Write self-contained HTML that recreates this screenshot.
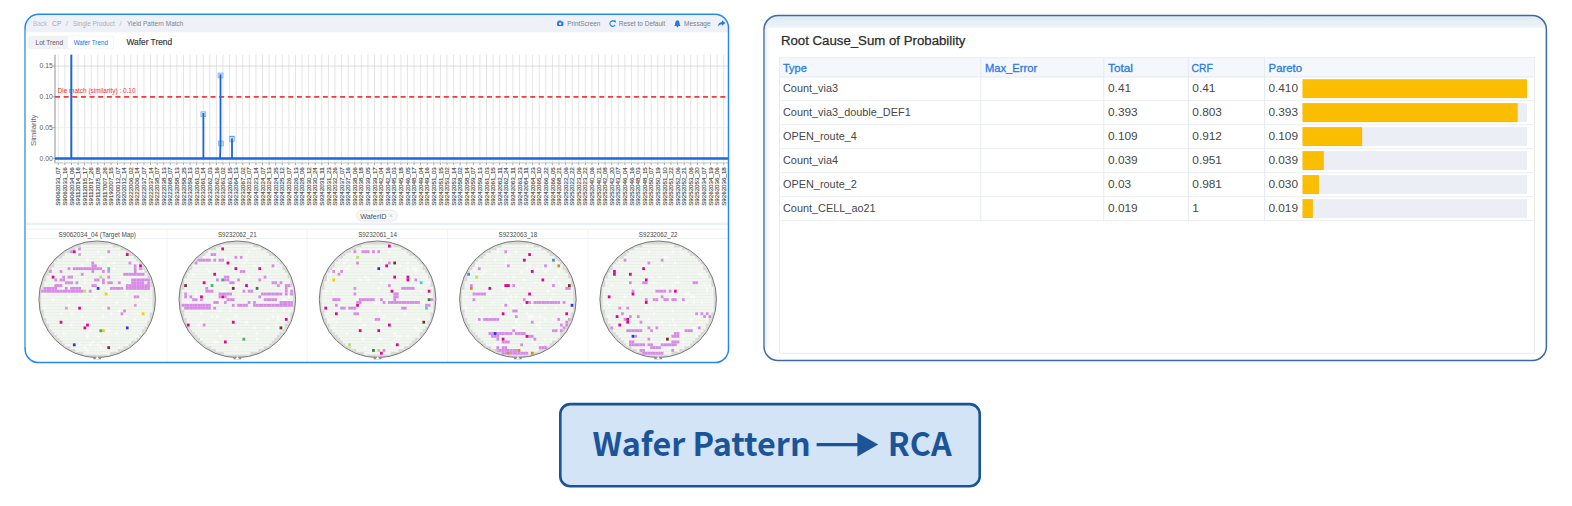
<!DOCTYPE html><html><head><meta charset="utf-8"><title>Wafer Pattern to RCA</title><style>
*{margin:0;padding:0;box-sizing:border-box}
html,body{width:1572px;height:506px;overflow:hidden;background:#fff}
body{position:relative;font-family:"Liberation Sans",Arial,sans-serif;color:#333}
.abs{position:absolute}
#svg{left:0;top:0}
.bt{font-family:"Noto Sans CJK SC","Liberation Sans",sans-serif;font-weight:700;font-size:32.3px;line-height:46px;color:#1b5598;white-space:nowrap}

</style></head><body>
<svg id="svg" class="abs" width="1572" height="506" viewBox="0 0 1572 506" font-family='"Liberation Sans", Arial, sans-serif'><defs><clipPath id="lpc"><rect x="25.1" y="14.3" width="703.4" height="348.3" rx="13.5"/></clipPath><clipPath id="rpc"><rect x="764.0" y="15.5" width="782.4" height="345.0" rx="14"/></clipPath><linearGradient id="rg" x1="0" y1="0" x2="0" y2="1"><stop offset="0" stop-color="#e0e8f1"/><stop offset="1" stop-color="#eef4fa"/></linearGradient></defs><rect x="25.1" y="14.3" width="703.4" height="348.3" rx="13.5" fill="#fff"/><rect x="25.1" y="14.3" width="703.4" height="18.0" fill="#eef2f8" clip-path="url(#lpc)"/><rect x="764.0" y="15.5" width="782.4" height="345.0" rx="14" fill="#fff"/><rect x="764.0" y="15.5" width="782.4" height="12.3" fill="url(#rg)" clip-path="url(#rpc)"/><linearGradient id="lg" x1="0" y1="0" x2="1" y2="0"><stop offset="0" stop-color="#e6eef9"/><stop offset="1" stop-color="#ffffff" stop-opacity="0"/></linearGradient><rect x="764.8" y="27.8" width="6.5" height="320" fill="url(#lg)"/><rect x="560.3" y="404.1" width="419.4" height="82.1" rx="10" fill="#d3e4f6" stroke="#1a5398" stroke-width="2.6"/><text x="33.00" y="26.00" font-size="6.5" fill="#b8bcc3" textLength="14.20" lengthAdjust="spacingAndGlyphs" >Back</text><text x="52.10" y="26.00" font-size="6.5" fill="#9da3ab" textLength="9.30" lengthAdjust="spacingAndGlyphs" >CP</text><text x="65.70" y="26.00" font-size="6.5" fill="#c2c6cc" textLength="2.40" lengthAdjust="spacingAndGlyphs" >/</text><text x="72.90" y="26.00" font-size="6.5" fill="#a9aeb5" textLength="41.80" lengthAdjust="spacingAndGlyphs" >Single Product</text><text x="119.20" y="26.00" font-size="6.5" fill="#c2c6cc" textLength="2.40" lengthAdjust="spacingAndGlyphs" >/</text><text x="127.00" y="26.00" font-size="6.5" fill="#7d838b" textLength="56.40" lengthAdjust="spacingAndGlyphs" >Yield Pattern Match</text><g fill="#1f7ae0"><rect x="557" y="21.4" width="6.3" height="4.6" rx="0.8"/><rect x="558.4" y="20.5" width="2.8" height="1.4" rx="0.3"/><circle cx="560.1" cy="23.7" r="1.25" fill="#e9eef6"/><path d="M614.9 22.0 A2.75 2.75 0 1 0 615.1 24.9" fill="none" stroke="#1f7ae0" stroke-width="1.1"/><path d="M613.4 20.3 L615.9 20.5 L615.3 23.0 Z"/><path d="M674.2 26.0 L680.6 26.0 L679.7 24.6 L679.6 22.9 Q679.5 20.5 677.4 20.2 Q675.3 20.5 675.2 22.9 L675.1 24.6 Z"/><circle cx="677.4" cy="26.6" r="0.8"/><path d="M718.0 26.4 Q718.2 22.3 722.0 21.9 L722.0 20.2 L725.4 23.0 L722.0 25.8 L722.0 24.3 Q719.6 24.3 718.0 26.4 Z"/></g><text x="567.20" y="26.00" font-size="6.4" fill="#7b8088" textLength="33.20" lengthAdjust="spacingAndGlyphs" >PrintScreen</text><text x="618.70" y="26.00" font-size="6.4" fill="#7b8088" textLength="46.60" lengthAdjust="spacingAndGlyphs" >Reset to Default</text><text x="684.00" y="26.00" font-size="6.4" fill="#7b8088" textLength="26.60" lengthAdjust="spacingAndGlyphs" >Message</text><rect x="28" y="35.8" width="86" height="13.4" rx="2" fill="#f1f2f4"/><rect x="68" y="36.5" width="45.2" height="12" rx="2" fill="#ffffff"/><text x="35.50" y="44.80" font-size="6.7" fill="#5e5656" textLength="27.60" lengthAdjust="spacingAndGlyphs" >Lot Trend</text><text x="73.70" y="44.80" font-size="6.7" fill="#1d6fe0" textLength="34.20" lengthAdjust="spacingAndGlyphs" >Wafer Trend</text><text x="126.40" y="45.40" font-size="9.0" fill="#2f2f2f" textLength="45.80" lengthAdjust="spacingAndGlyphs" stroke="#2f2f2f" stroke-width="0.15">Wafer Trend</text><g stroke="#cacaca" stroke-width="0.5"><line x1="58.30" y1="54.7" x2="58.30" y2="162.9"/><line x1="64.89" y1="54.7" x2="64.89" y2="162.9"/><line x1="71.48" y1="54.7" x2="71.48" y2="162.9"/><line x1="78.06" y1="54.7" x2="78.06" y2="162.9"/><line x1="84.65" y1="54.7" x2="84.65" y2="162.9"/><line x1="91.24" y1="54.7" x2="91.24" y2="162.9"/><line x1="97.83" y1="54.7" x2="97.83" y2="162.9"/><line x1="104.42" y1="54.7" x2="104.42" y2="162.9"/><line x1="111.00" y1="54.7" x2="111.00" y2="162.9"/><line x1="117.59" y1="54.7" x2="117.59" y2="162.9"/><line x1="124.18" y1="54.7" x2="124.18" y2="162.9"/><line x1="130.77" y1="54.7" x2="130.77" y2="162.9"/><line x1="137.36" y1="54.7" x2="137.36" y2="162.9"/><line x1="143.94" y1="54.7" x2="143.94" y2="162.9"/><line x1="150.53" y1="54.7" x2="150.53" y2="162.9"/><line x1="157.12" y1="54.7" x2="157.12" y2="162.9"/><line x1="163.71" y1="54.7" x2="163.71" y2="162.9"/><line x1="170.30" y1="54.7" x2="170.30" y2="162.9"/><line x1="176.88" y1="54.7" x2="176.88" y2="162.9"/><line x1="183.47" y1="54.7" x2="183.47" y2="162.9"/><line x1="190.06" y1="54.7" x2="190.06" y2="162.9"/><line x1="196.65" y1="54.7" x2="196.65" y2="162.9"/><line x1="203.24" y1="54.7" x2="203.24" y2="162.9"/><line x1="209.82" y1="54.7" x2="209.82" y2="162.9"/><line x1="216.41" y1="54.7" x2="216.41" y2="162.9"/><line x1="223.00" y1="54.7" x2="223.00" y2="162.9"/><line x1="229.59" y1="54.7" x2="229.59" y2="162.9"/><line x1="236.18" y1="54.7" x2="236.18" y2="162.9"/><line x1="242.76" y1="54.7" x2="242.76" y2="162.9"/><line x1="249.35" y1="54.7" x2="249.35" y2="162.9"/><line x1="255.94" y1="54.7" x2="255.94" y2="162.9"/><line x1="262.53" y1="54.7" x2="262.53" y2="162.9"/><line x1="269.12" y1="54.7" x2="269.12" y2="162.9"/><line x1="275.70" y1="54.7" x2="275.70" y2="162.9"/><line x1="282.29" y1="54.7" x2="282.29" y2="162.9"/><line x1="288.88" y1="54.7" x2="288.88" y2="162.9"/><line x1="295.47" y1="54.7" x2="295.47" y2="162.9"/><line x1="302.06" y1="54.7" x2="302.06" y2="162.9"/><line x1="308.64" y1="54.7" x2="308.64" y2="162.9"/><line x1="315.23" y1="54.7" x2="315.23" y2="162.9"/><line x1="321.82" y1="54.7" x2="321.82" y2="162.9"/><line x1="328.41" y1="54.7" x2="328.41" y2="162.9"/><line x1="335.00" y1="54.7" x2="335.00" y2="162.9"/><line x1="341.58" y1="54.7" x2="341.58" y2="162.9"/><line x1="348.17" y1="54.7" x2="348.17" y2="162.9"/><line x1="354.76" y1="54.7" x2="354.76" y2="162.9"/><line x1="361.35" y1="54.7" x2="361.35" y2="162.9"/><line x1="367.94" y1="54.7" x2="367.94" y2="162.9"/><line x1="374.52" y1="54.7" x2="374.52" y2="162.9"/><line x1="381.11" y1="54.7" x2="381.11" y2="162.9"/><line x1="387.70" y1="54.7" x2="387.70" y2="162.9"/><line x1="394.29" y1="54.7" x2="394.29" y2="162.9"/><line x1="400.88" y1="54.7" x2="400.88" y2="162.9"/><line x1="407.46" y1="54.7" x2="407.46" y2="162.9"/><line x1="414.05" y1="54.7" x2="414.05" y2="162.9"/><line x1="420.64" y1="54.7" x2="420.64" y2="162.9"/><line x1="427.23" y1="54.7" x2="427.23" y2="162.9"/><line x1="433.82" y1="54.7" x2="433.82" y2="162.9"/><line x1="440.40" y1="54.7" x2="440.40" y2="162.9"/><line x1="446.99" y1="54.7" x2="446.99" y2="162.9"/><line x1="453.58" y1="54.7" x2="453.58" y2="162.9"/><line x1="460.17" y1="54.7" x2="460.17" y2="162.9"/><line x1="466.76" y1="54.7" x2="466.76" y2="162.9"/><line x1="473.34" y1="54.7" x2="473.34" y2="162.9"/><line x1="479.93" y1="54.7" x2="479.93" y2="162.9"/><line x1="486.52" y1="54.7" x2="486.52" y2="162.9"/><line x1="493.11" y1="54.7" x2="493.11" y2="162.9"/><line x1="499.70" y1="54.7" x2="499.70" y2="162.9"/><line x1="506.28" y1="54.7" x2="506.28" y2="162.9"/><line x1="512.87" y1="54.7" x2="512.87" y2="162.9"/><line x1="519.46" y1="54.7" x2="519.46" y2="162.9"/><line x1="526.05" y1="54.7" x2="526.05" y2="162.9"/><line x1="532.64" y1="54.7" x2="532.64" y2="162.9"/><line x1="539.22" y1="54.7" x2="539.22" y2="162.9"/><line x1="545.81" y1="54.7" x2="545.81" y2="162.9"/><line x1="552.40" y1="54.7" x2="552.40" y2="162.9"/><line x1="558.99" y1="54.7" x2="558.99" y2="162.9"/><line x1="565.58" y1="54.7" x2="565.58" y2="162.9"/><line x1="572.16" y1="54.7" x2="572.16" y2="162.9"/><line x1="578.75" y1="54.7" x2="578.75" y2="162.9"/><line x1="585.34" y1="54.7" x2="585.34" y2="162.9"/><line x1="591.93" y1="54.7" x2="591.93" y2="162.9"/><line x1="598.52" y1="54.7" x2="598.52" y2="162.9"/><line x1="605.10" y1="54.7" x2="605.10" y2="162.9"/><line x1="611.69" y1="54.7" x2="611.69" y2="162.9"/><line x1="618.28" y1="54.7" x2="618.28" y2="162.9"/><line x1="624.87" y1="54.7" x2="624.87" y2="162.9"/><line x1="631.46" y1="54.7" x2="631.46" y2="162.9"/><line x1="638.04" y1="54.7" x2="638.04" y2="162.9"/><line x1="644.63" y1="54.7" x2="644.63" y2="162.9"/><line x1="651.22" y1="54.7" x2="651.22" y2="162.9"/><line x1="657.81" y1="54.7" x2="657.81" y2="162.9"/><line x1="664.40" y1="54.7" x2="664.40" y2="162.9"/><line x1="670.98" y1="54.7" x2="670.98" y2="162.9"/><line x1="677.57" y1="54.7" x2="677.57" y2="162.9"/><line x1="684.16" y1="54.7" x2="684.16" y2="162.9"/><line x1="690.75" y1="54.7" x2="690.75" y2="162.9"/><line x1="697.34" y1="54.7" x2="697.34" y2="162.9"/><line x1="703.92" y1="54.7" x2="703.92" y2="162.9"/><line x1="710.51" y1="54.7" x2="710.51" y2="162.9"/><line x1="717.10" y1="54.7" x2="717.10" y2="162.9"/><line x1="723.69" y1="54.7" x2="723.69" y2="162.9"/></g><line x1="55.0" y1="66.09" x2="729.0" y2="66.09" stroke="#d2d2d2" stroke-width="0.8"/><line x1="55.0" y1="127.63" x2="729.0" y2="127.63" stroke="#ebebeb" stroke-width="0.8"/><line x1="55.0" y1="54.7" x2="55.0" y2="163.3" stroke="#b0b0b0" stroke-width="1.4"/><line x1="55.0" y1="162.9" x2="729.0" y2="162.9" stroke="#c4c4c4" stroke-width="1"/><g stroke="#8a8a8a" stroke-width="0.7"><line x1="58.30" y1="163" x2="58.30" y2="165"/><line x1="64.89" y1="163" x2="64.89" y2="165"/><line x1="71.48" y1="163" x2="71.48" y2="165"/><line x1="78.06" y1="163" x2="78.06" y2="165"/><line x1="84.65" y1="163" x2="84.65" y2="165"/><line x1="91.24" y1="163" x2="91.24" y2="165"/><line x1="97.83" y1="163" x2="97.83" y2="165"/><line x1="104.42" y1="163" x2="104.42" y2="165"/><line x1="111.00" y1="163" x2="111.00" y2="165"/><line x1="117.59" y1="163" x2="117.59" y2="165"/><line x1="124.18" y1="163" x2="124.18" y2="165"/><line x1="130.77" y1="163" x2="130.77" y2="165"/><line x1="137.36" y1="163" x2="137.36" y2="165"/><line x1="143.94" y1="163" x2="143.94" y2="165"/><line x1="150.53" y1="163" x2="150.53" y2="165"/><line x1="157.12" y1="163" x2="157.12" y2="165"/><line x1="163.71" y1="163" x2="163.71" y2="165"/><line x1="170.30" y1="163" x2="170.30" y2="165"/><line x1="176.88" y1="163" x2="176.88" y2="165"/><line x1="183.47" y1="163" x2="183.47" y2="165"/><line x1="190.06" y1="163" x2="190.06" y2="165"/><line x1="196.65" y1="163" x2="196.65" y2="165"/><line x1="203.24" y1="163" x2="203.24" y2="165"/><line x1="209.82" y1="163" x2="209.82" y2="165"/><line x1="216.41" y1="163" x2="216.41" y2="165"/><line x1="223.00" y1="163" x2="223.00" y2="165"/><line x1="229.59" y1="163" x2="229.59" y2="165"/><line x1="236.18" y1="163" x2="236.18" y2="165"/><line x1="242.76" y1="163" x2="242.76" y2="165"/><line x1="249.35" y1="163" x2="249.35" y2="165"/><line x1="255.94" y1="163" x2="255.94" y2="165"/><line x1="262.53" y1="163" x2="262.53" y2="165"/><line x1="269.12" y1="163" x2="269.12" y2="165"/><line x1="275.70" y1="163" x2="275.70" y2="165"/><line x1="282.29" y1="163" x2="282.29" y2="165"/><line x1="288.88" y1="163" x2="288.88" y2="165"/><line x1="295.47" y1="163" x2="295.47" y2="165"/><line x1="302.06" y1="163" x2="302.06" y2="165"/><line x1="308.64" y1="163" x2="308.64" y2="165"/><line x1="315.23" y1="163" x2="315.23" y2="165"/><line x1="321.82" y1="163" x2="321.82" y2="165"/><line x1="328.41" y1="163" x2="328.41" y2="165"/><line x1="335.00" y1="163" x2="335.00" y2="165"/><line x1="341.58" y1="163" x2="341.58" y2="165"/><line x1="348.17" y1="163" x2="348.17" y2="165"/><line x1="354.76" y1="163" x2="354.76" y2="165"/><line x1="361.35" y1="163" x2="361.35" y2="165"/><line x1="367.94" y1="163" x2="367.94" y2="165"/><line x1="374.52" y1="163" x2="374.52" y2="165"/><line x1="381.11" y1="163" x2="381.11" y2="165"/><line x1="387.70" y1="163" x2="387.70" y2="165"/><line x1="394.29" y1="163" x2="394.29" y2="165"/><line x1="400.88" y1="163" x2="400.88" y2="165"/><line x1="407.46" y1="163" x2="407.46" y2="165"/><line x1="414.05" y1="163" x2="414.05" y2="165"/><line x1="420.64" y1="163" x2="420.64" y2="165"/><line x1="427.23" y1="163" x2="427.23" y2="165"/><line x1="433.82" y1="163" x2="433.82" y2="165"/><line x1="440.40" y1="163" x2="440.40" y2="165"/><line x1="446.99" y1="163" x2="446.99" y2="165"/><line x1="453.58" y1="163" x2="453.58" y2="165"/><line x1="460.17" y1="163" x2="460.17" y2="165"/><line x1="466.76" y1="163" x2="466.76" y2="165"/><line x1="473.34" y1="163" x2="473.34" y2="165"/><line x1="479.93" y1="163" x2="479.93" y2="165"/><line x1="486.52" y1="163" x2="486.52" y2="165"/><line x1="493.11" y1="163" x2="493.11" y2="165"/><line x1="499.70" y1="163" x2="499.70" y2="165"/><line x1="506.28" y1="163" x2="506.28" y2="165"/><line x1="512.87" y1="163" x2="512.87" y2="165"/><line x1="519.46" y1="163" x2="519.46" y2="165"/><line x1="526.05" y1="163" x2="526.05" y2="165"/><line x1="532.64" y1="163" x2="532.64" y2="165"/><line x1="539.22" y1="163" x2="539.22" y2="165"/><line x1="545.81" y1="163" x2="545.81" y2="165"/><line x1="552.40" y1="163" x2="552.40" y2="165"/><line x1="558.99" y1="163" x2="558.99" y2="165"/><line x1="565.58" y1="163" x2="565.58" y2="165"/><line x1="572.16" y1="163" x2="572.16" y2="165"/><line x1="578.75" y1="163" x2="578.75" y2="165"/><line x1="585.34" y1="163" x2="585.34" y2="165"/><line x1="591.93" y1="163" x2="591.93" y2="165"/><line x1="598.52" y1="163" x2="598.52" y2="165"/><line x1="605.10" y1="163" x2="605.10" y2="165"/><line x1="611.69" y1="163" x2="611.69" y2="165"/><line x1="618.28" y1="163" x2="618.28" y2="165"/><line x1="624.87" y1="163" x2="624.87" y2="165"/><line x1="631.46" y1="163" x2="631.46" y2="165"/><line x1="638.04" y1="163" x2="638.04" y2="165"/><line x1="644.63" y1="163" x2="644.63" y2="165"/><line x1="651.22" y1="163" x2="651.22" y2="165"/><line x1="657.81" y1="163" x2="657.81" y2="165"/><line x1="664.40" y1="163" x2="664.40" y2="165"/><line x1="670.98" y1="163" x2="670.98" y2="165"/><line x1="677.57" y1="163" x2="677.57" y2="165"/><line x1="684.16" y1="163" x2="684.16" y2="165"/><line x1="690.75" y1="163" x2="690.75" y2="165"/><line x1="697.34" y1="163" x2="697.34" y2="165"/><line x1="703.92" y1="163" x2="703.92" y2="165"/><line x1="710.51" y1="163" x2="710.51" y2="165"/><line x1="717.10" y1="163" x2="717.10" y2="165"/><line x1="723.69" y1="163" x2="723.69" y2="165"/><line x1="53" y1="66.09" x2="55" y2="66.09"/><line x1="53" y1="96.86" x2="55" y2="96.86"/><line x1="53" y1="127.63" x2="55" y2="127.63"/><line x1="53" y1="158.40" x2="55" y2="158.40"/></g><text x="52.90" y="68.29" font-size="6.4" fill="#606060" text-anchor="end" textLength="13.30" lengthAdjust="spacingAndGlyphs" >0.15</text><text x="52.90" y="99.06" font-size="6.4" fill="#606060" text-anchor="end" textLength="13.30" lengthAdjust="spacingAndGlyphs" >0.10</text><text x="52.90" y="129.83" font-size="6.4" fill="#606060" text-anchor="end" textLength="13.30" lengthAdjust="spacingAndGlyphs" >0.05</text><text x="52.90" y="160.60" font-size="6.4" fill="#606060" text-anchor="end" textLength="13.30" lengthAdjust="spacingAndGlyphs" >0.00</text><text x="0.00" y="0.00" font-size="7.6" fill="#666" text-anchor="middle" textLength="31.50" lengthAdjust="spacingAndGlyphs" transform="translate(35.6,130.3) rotate(-90)">Similarity</text><line x1="55.0" y1="96.86" x2="729.0" y2="96.86" stroke="#f43a3a" stroke-width="1.7" stroke-dasharray="5 3.64"/><text x="57.70" y="93.10" font-size="6.4" fill="#f03030" textLength="77.80" lengthAdjust="spacingAndGlyphs" >Die match (similarity) : 0.10</text><g fill="#c2daf6" stroke="#5b9be8" stroke-width="0.5"><rect x="200.90" y="111.80" width="5.0" height="5.0"/><rect x="218.00" y="73.00" width="5.0" height="5.0"/><rect x="218.30" y="141.00" width="5.0" height="5.0"/><rect x="229.50" y="136.70" width="5.0" height="5.0"/></g><line x1="229.4" y1="136.3" x2="234.6" y2="136.3" stroke="#3d86e6" stroke-width="0.7"/><g stroke="#1a66dc" fill="none"><line x1="55" y1="158.5" x2="729" y2="158.5" stroke-width="2.5"/><line x1="71.3" y1="54.7" x2="71.3" y2="158.5" stroke-width="2"/><line x1="203.4" y1="113.0" x2="203.4" y2="158.5" stroke-width="1.8"/><polyline points="220.5,74.5 220.5,143.5 220.0,158.5" stroke-width="1.8"/><line x1="232" y1="138.5" x2="232" y2="158.5" stroke-width="1.8"/></g><g font-size="6.1" fill="#4e4e4e" stroke="#4e4e4e" stroke-width="0.14" text-anchor="end"><text transform="translate(60.40,167.2) rotate(-90)" textLength="38.6" lengthAdjust="spacingAndGlyphs">S9062033_07</text><text transform="translate(66.99,167.2) rotate(-90)" textLength="38.6" lengthAdjust="spacingAndGlyphs">S9062033_16</text><text transform="translate(73.58,167.2) rotate(-90)" textLength="38.6" lengthAdjust="spacingAndGlyphs">S9062034_06</text><text transform="translate(80.16,167.2) rotate(-90)" textLength="38.6" lengthAdjust="spacingAndGlyphs">S9112014_16</text><text transform="translate(86.75,167.2) rotate(-90)" textLength="38.6" lengthAdjust="spacingAndGlyphs">S9112015_17</text><text transform="translate(93.34,167.2) rotate(-90)" textLength="38.6" lengthAdjust="spacingAndGlyphs">S9112017_26</text><text transform="translate(99.93,167.2) rotate(-90)" textLength="38.6" lengthAdjust="spacingAndGlyphs">S9112025_08</text><text transform="translate(106.52,167.2) rotate(-90)" textLength="38.6" lengthAdjust="spacingAndGlyphs">S9117007_26</text><text transform="translate(113.10,167.2) rotate(-90)" textLength="38.6" lengthAdjust="spacingAndGlyphs">S9192007_15</text><text transform="translate(119.69,167.2) rotate(-90)" textLength="38.6" lengthAdjust="spacingAndGlyphs">S9200012_07</text><text transform="translate(126.28,167.2) rotate(-90)" textLength="38.6" lengthAdjust="spacingAndGlyphs">S9202012_14</text><text transform="translate(132.87,167.2) rotate(-90)" textLength="38.6" lengthAdjust="spacingAndGlyphs">S9222006_02</text><text transform="translate(139.46,167.2) rotate(-90)" textLength="38.6" lengthAdjust="spacingAndGlyphs">S9222006_14</text><text transform="translate(146.04,167.2) rotate(-90)" textLength="38.6" lengthAdjust="spacingAndGlyphs">S9222037_07</text><text transform="translate(152.63,167.2) rotate(-90)" textLength="38.6" lengthAdjust="spacingAndGlyphs">S9222037_14</text><text transform="translate(159.22,167.2) rotate(-90)" textLength="38.6" lengthAdjust="spacingAndGlyphs">S9222038_07</text><text transform="translate(165.81,167.2) rotate(-90)" textLength="38.6" lengthAdjust="spacingAndGlyphs">S9222038_13</text><text transform="translate(172.40,167.2) rotate(-90)" textLength="38.6" lengthAdjust="spacingAndGlyphs">S9222068_07</text><text transform="translate(178.98,167.2) rotate(-90)" textLength="38.6" lengthAdjust="spacingAndGlyphs">S9232058_13</text><text transform="translate(185.57,167.2) rotate(-90)" textLength="38.6" lengthAdjust="spacingAndGlyphs">S9232058_25</text><text transform="translate(192.16,167.2) rotate(-90)" textLength="38.6" lengthAdjust="spacingAndGlyphs">S9232059_13</text><text transform="translate(198.75,167.2) rotate(-90)" textLength="38.6" lengthAdjust="spacingAndGlyphs">S9232061_03</text><text transform="translate(205.34,167.2) rotate(-90)" textLength="38.6" lengthAdjust="spacingAndGlyphs">S9232061_14</text><text transform="translate(211.92,167.2) rotate(-90)" textLength="38.6" lengthAdjust="spacingAndGlyphs">S9232062_03</text><text transform="translate(218.51,167.2) rotate(-90)" textLength="38.6" lengthAdjust="spacingAndGlyphs">S9232062_16</text><text transform="translate(225.10,167.2) rotate(-90)" textLength="38.6" lengthAdjust="spacingAndGlyphs">S9232063_02</text><text transform="translate(231.69,167.2) rotate(-90)" textLength="38.6" lengthAdjust="spacingAndGlyphs">S9232063_15</text><text transform="translate(238.28,167.2) rotate(-90)" textLength="38.6" lengthAdjust="spacingAndGlyphs">S9232064_13</text><text transform="translate(244.86,167.2) rotate(-90)" textLength="38.6" lengthAdjust="spacingAndGlyphs">S9232067_02</text><text transform="translate(251.45,167.2) rotate(-90)" textLength="38.6" lengthAdjust="spacingAndGlyphs">S9242023_07</text><text transform="translate(258.04,167.2) rotate(-90)" textLength="38.6" lengthAdjust="spacingAndGlyphs">S9242023_14</text><text transform="translate(264.63,167.2) rotate(-90)" textLength="38.6" lengthAdjust="spacingAndGlyphs">S9242024_07</text><text transform="translate(271.22,167.2) rotate(-90)" textLength="38.6" lengthAdjust="spacingAndGlyphs">S9242024_13</text><text transform="translate(277.80,167.2) rotate(-90)" textLength="38.6" lengthAdjust="spacingAndGlyphs">S9242024_25</text><text transform="translate(284.39,167.2) rotate(-90)" textLength="38.6" lengthAdjust="spacingAndGlyphs">S9242025_12</text><text transform="translate(290.98,167.2) rotate(-90)" textLength="38.6" lengthAdjust="spacingAndGlyphs">S9242026_07</text><text transform="translate(297.57,167.2) rotate(-90)" textLength="38.6" lengthAdjust="spacingAndGlyphs">S9242026_13</text><text transform="translate(304.16,167.2) rotate(-90)" textLength="38.6" lengthAdjust="spacingAndGlyphs">S9242028_06</text><text transform="translate(310.74,167.2) rotate(-90)" textLength="38.6" lengthAdjust="spacingAndGlyphs">S9242030_12</text><text transform="translate(317.33,167.2) rotate(-90)" textLength="38.6" lengthAdjust="spacingAndGlyphs">S9242030_24</text><text transform="translate(323.92,167.2) rotate(-90)" textLength="38.6" lengthAdjust="spacingAndGlyphs">S9242031_11</text><text transform="translate(330.51,167.2) rotate(-90)" textLength="38.6" lengthAdjust="spacingAndGlyphs">S9242031_23</text><text transform="translate(337.10,167.2) rotate(-90)" textLength="38.6" lengthAdjust="spacingAndGlyphs">S9242032_26</text><text transform="translate(343.68,167.2) rotate(-90)" textLength="38.6" lengthAdjust="spacingAndGlyphs">S9242037_07</text><text transform="translate(350.27,167.2) rotate(-90)" textLength="38.6" lengthAdjust="spacingAndGlyphs">S9242037_16</text><text transform="translate(356.86,167.2) rotate(-90)" textLength="38.6" lengthAdjust="spacingAndGlyphs">S9242038_06</text><text transform="translate(363.45,167.2) rotate(-90)" textLength="38.6" lengthAdjust="spacingAndGlyphs">S9242038_18</text><text transform="translate(370.04,167.2) rotate(-90)" textLength="38.6" lengthAdjust="spacingAndGlyphs">S9242039_05</text><text transform="translate(376.62,167.2) rotate(-90)" textLength="38.6" lengthAdjust="spacingAndGlyphs">S9242039_17</text><text transform="translate(383.21,167.2) rotate(-90)" textLength="38.6" lengthAdjust="spacingAndGlyphs">S9242042_04</text><text transform="translate(389.80,167.2) rotate(-90)" textLength="38.6" lengthAdjust="spacingAndGlyphs">S9242042_16</text><text transform="translate(396.39,167.2) rotate(-90)" textLength="38.6" lengthAdjust="spacingAndGlyphs">S9242045_03</text><text transform="translate(402.98,167.2) rotate(-90)" textLength="38.6" lengthAdjust="spacingAndGlyphs">S9242045_18</text><text transform="translate(409.56,167.2) rotate(-90)" textLength="38.6" lengthAdjust="spacingAndGlyphs">S9242046_05</text><text transform="translate(416.15,167.2) rotate(-90)" textLength="38.6" lengthAdjust="spacingAndGlyphs">S9242048_17</text><text transform="translate(422.74,167.2) rotate(-90)" textLength="38.6" lengthAdjust="spacingAndGlyphs">S9242049_04</text><text transform="translate(429.33,167.2) rotate(-90)" textLength="38.6" lengthAdjust="spacingAndGlyphs">S9242049_16</text><text transform="translate(435.92,167.2) rotate(-90)" textLength="38.6" lengthAdjust="spacingAndGlyphs">S9242051_03</text><text transform="translate(442.50,167.2) rotate(-90)" textLength="38.6" lengthAdjust="spacingAndGlyphs">S9242051_15</text><text transform="translate(449.09,167.2) rotate(-90)" textLength="38.6" lengthAdjust="spacingAndGlyphs">S9242053_02</text><text transform="translate(455.68,167.2) rotate(-90)" textLength="38.6" lengthAdjust="spacingAndGlyphs">S9242053_14</text><text transform="translate(462.27,167.2) rotate(-90)" textLength="38.6" lengthAdjust="spacingAndGlyphs">S9242058_02</text><text transform="translate(468.86,167.2) rotate(-90)" textLength="38.6" lengthAdjust="spacingAndGlyphs">S9242058_14</text><text transform="translate(475.44,167.2) rotate(-90)" textLength="38.6" lengthAdjust="spacingAndGlyphs">S9242059_07</text><text transform="translate(482.03,167.2) rotate(-90)" textLength="38.6" lengthAdjust="spacingAndGlyphs">S9242059_13</text><text transform="translate(488.62,167.2) rotate(-90)" textLength="38.6" lengthAdjust="spacingAndGlyphs">S9242061_03</text><text transform="translate(495.21,167.2) rotate(-90)" textLength="38.6" lengthAdjust="spacingAndGlyphs">S9242061_15</text><text transform="translate(501.80,167.2) rotate(-90)" textLength="38.6" lengthAdjust="spacingAndGlyphs">S9242062_11</text><text transform="translate(508.38,167.2) rotate(-90)" textLength="38.6" lengthAdjust="spacingAndGlyphs">S9242062_24</text><text transform="translate(514.97,167.2) rotate(-90)" textLength="38.6" lengthAdjust="spacingAndGlyphs">S9242063_11</text><text transform="translate(521.56,167.2) rotate(-90)" textLength="38.6" lengthAdjust="spacingAndGlyphs">S9242063_23</text><text transform="translate(528.15,167.2) rotate(-90)" textLength="38.6" lengthAdjust="spacingAndGlyphs">S9242064_11</text><text transform="translate(534.74,167.2) rotate(-90)" textLength="38.6" lengthAdjust="spacingAndGlyphs">S9242064_23</text><text transform="translate(541.32,167.2) rotate(-90)" textLength="38.6" lengthAdjust="spacingAndGlyphs">S9242065_10</text><text transform="translate(547.91,167.2) rotate(-90)" textLength="38.6" lengthAdjust="spacingAndGlyphs">S9242066_22</text><text transform="translate(554.50,167.2) rotate(-90)" textLength="38.6" lengthAdjust="spacingAndGlyphs">S9242066_05</text><text transform="translate(561.09,167.2) rotate(-90)" textLength="38.6" lengthAdjust="spacingAndGlyphs">S9242068_21</text><text transform="translate(567.68,167.2) rotate(-90)" textLength="38.6" lengthAdjust="spacingAndGlyphs">S9252022_06</text><text transform="translate(574.26,167.2) rotate(-90)" textLength="38.6" lengthAdjust="spacingAndGlyphs">S9252022_22</text><text transform="translate(580.85,167.2) rotate(-90)" textLength="38.6" lengthAdjust="spacingAndGlyphs">S9252023_06</text><text transform="translate(587.44,167.2) rotate(-90)" textLength="38.6" lengthAdjust="spacingAndGlyphs">S9252023_22</text><text transform="translate(594.03,167.2) rotate(-90)" textLength="38.6" lengthAdjust="spacingAndGlyphs">S9252040_06</text><text transform="translate(600.62,167.2) rotate(-90)" textLength="38.6" lengthAdjust="spacingAndGlyphs">S9252040_21</text><text transform="translate(607.20,167.2) rotate(-90)" textLength="38.6" lengthAdjust="spacingAndGlyphs">S9252042_08</text><text transform="translate(613.79,167.2) rotate(-90)" textLength="38.6" lengthAdjust="spacingAndGlyphs">S9252042_20</text><text transform="translate(620.38,167.2) rotate(-90)" textLength="38.6" lengthAdjust="spacingAndGlyphs">S9252043_07</text><text transform="translate(626.97,167.2) rotate(-90)" textLength="38.6" lengthAdjust="spacingAndGlyphs">S9252046_04</text><text transform="translate(633.56,167.2) rotate(-90)" textLength="38.6" lengthAdjust="spacingAndGlyphs">S9252046_16</text><text transform="translate(640.14,167.2) rotate(-90)" textLength="38.6" lengthAdjust="spacingAndGlyphs">S9252048_03</text><text transform="translate(646.73,167.2) rotate(-90)" textLength="38.6" lengthAdjust="spacingAndGlyphs">S9252048_15</text><text transform="translate(653.32,167.2) rotate(-90)" textLength="38.6" lengthAdjust="spacingAndGlyphs">S9252050_07</text><text transform="translate(659.91,167.2) rotate(-90)" textLength="38.6" lengthAdjust="spacingAndGlyphs">S9252050_19</text><text transform="translate(666.50,167.2) rotate(-90)" textLength="38.6" lengthAdjust="spacingAndGlyphs">S9252051_10</text><text transform="translate(673.08,167.2) rotate(-90)" textLength="38.6" lengthAdjust="spacingAndGlyphs">S9252051_22</text><text transform="translate(679.67,167.2) rotate(-90)" textLength="38.6" lengthAdjust="spacingAndGlyphs">S9252052_06</text><text transform="translate(686.26,167.2) rotate(-90)" textLength="38.6" lengthAdjust="spacingAndGlyphs">S9252052_21</text><text transform="translate(692.85,167.2) rotate(-90)" textLength="38.6" lengthAdjust="spacingAndGlyphs">S9252053_06</text><text transform="translate(699.44,167.2) rotate(-90)" textLength="38.6" lengthAdjust="spacingAndGlyphs">S9252053_20</text><text transform="translate(706.02,167.2) rotate(-90)" textLength="38.6" lengthAdjust="spacingAndGlyphs">S9262034_07</text><text transform="translate(712.61,167.2) rotate(-90)" textLength="38.6" lengthAdjust="spacingAndGlyphs">S9262034_19</text><text transform="translate(719.20,167.2) rotate(-90)" textLength="38.6" lengthAdjust="spacingAndGlyphs">S9262036_06</text><text transform="translate(725.79,167.2) rotate(-90)" textLength="38.6" lengthAdjust="spacingAndGlyphs">S9262036_18</text></g><rect x="356.4" y="210.3" width="41" height="10.8" rx="5.4" fill="#f7f7f7" stroke="#e2e2e2" stroke-width="0.7"/><text x="360.20" y="218.50" font-size="7.2" fill="#505050" textLength="26.40" lengthAdjust="spacingAndGlyphs" >WaferID</text><text x="388.90" y="218.30" font-size="6.5" fill="#c4c4c4" >×</text><rect x="26.2" y="222.6" width="702" height="2.6" fill="#eaf0f8"/><line x1="26.2" y1="229.3" x2="728.2" y2="229.3" stroke="#ececec" stroke-width="0.8"/><line x1="26.2" y1="238.6" x2="728.2" y2="238.6" stroke="#ececec" stroke-width="0.8"/><line x1="167" y1="229.3" x2="167" y2="362" stroke="#f0f0f0" stroke-width="0.8"/><line x1="307.2" y1="229.3" x2="307.2" y2="362" stroke="#f0f0f0" stroke-width="0.8"/><line x1="447.6" y1="229.3" x2="447.6" y2="362" stroke="#f0f0f0" stroke-width="0.8"/><line x1="588" y1="229.3" x2="588" y2="362" stroke="#f0f0f0" stroke-width="0.8"/><text x="97.20" y="236.50" font-size="6.3" fill="#4a4a4a" text-anchor="middle" textLength="77.60" lengthAdjust="spacingAndGlyphs" >S9062034_04 (Target Map)</text><text x="237.30" y="236.50" font-size="6.3" fill="#4a4a4a" text-anchor="middle" textLength="38.80" lengthAdjust="spacingAndGlyphs" >S9232062_21</text><text x="377.60" y="236.50" font-size="6.3" fill="#4a4a4a" text-anchor="middle" textLength="38.80" lengthAdjust="spacingAndGlyphs" >S9232061_14</text><text x="517.90" y="236.50" font-size="6.3" fill="#4a4a4a" text-anchor="middle" textLength="38.80" lengthAdjust="spacingAndGlyphs" >S9232063_18</text><text x="658.20" y="236.50" font-size="6.3" fill="#4a4a4a" text-anchor="middle" textLength="38.80" lengthAdjust="spacingAndGlyphs" >S9232062_22</text><clipPath id="wc0"><circle cx="97.20" cy="299.30" r="58.00"/></clipPath><circle cx="97.20" cy="299.30" r="58.30" fill="#d8d8d8"/><g clip-path="url(#wc0)"><g fill="#f2f8f1"><rect x="80.86" y="244.67" width="31.80" height="2.82"/><rect x="75.56" y="247.49" width="45.05" height="2.82"/><rect x="70.26" y="250.31" width="55.65" height="2.82"/><rect x="64.96" y="253.13" width="63.60" height="2.82"/><rect x="62.31" y="255.95" width="71.55" height="2.82"/><rect x="57.01" y="258.77" width="79.50" height="2.82"/><rect x="54.36" y="261.59" width="84.80" height="2.82"/><rect x="54.36" y="264.41" width="87.45" height="2.82"/><rect x="51.71" y="267.23" width="90.10" height="2.82"/><rect x="49.06" y="270.05" width="95.40" height="2.82"/><rect x="49.06" y="272.87" width="98.05" height="2.82"/><rect x="46.41" y="275.69" width="100.70" height="2.82"/><rect x="46.41" y="278.51" width="103.35" height="2.82"/><rect x="43.76" y="281.33" width="106.00" height="2.82"/><rect x="43.76" y="284.15" width="106.00" height="2.82"/><rect x="43.76" y="286.97" width="108.65" height="2.82"/><rect x="41.11" y="289.79" width="111.30" height="2.82"/><rect x="41.11" y="292.61" width="111.30" height="2.82"/><rect x="41.11" y="295.43" width="111.30" height="2.82"/><rect x="41.11" y="298.25" width="111.30" height="2.82"/><rect x="41.11" y="301.07" width="111.30" height="2.82"/><rect x="41.11" y="303.89" width="111.30" height="2.82"/><rect x="41.11" y="306.71" width="111.30" height="2.82"/><rect x="43.76" y="309.53" width="108.65" height="2.82"/><rect x="43.76" y="312.35" width="106.00" height="2.82"/><rect x="43.76" y="315.17" width="106.00" height="2.82"/><rect x="46.41" y="317.99" width="103.35" height="2.82"/><rect x="46.41" y="320.81" width="100.70" height="2.82"/><rect x="49.06" y="323.63" width="98.05" height="2.82"/><rect x="49.06" y="326.45" width="95.40" height="2.82"/><rect x="51.71" y="329.27" width="90.10" height="2.82"/><rect x="54.36" y="332.09" width="87.45" height="2.82"/><rect x="57.01" y="334.91" width="82.15" height="2.82"/><rect x="59.66" y="337.73" width="76.85" height="2.82"/><rect x="62.31" y="340.55" width="68.90" height="2.82"/><rect x="64.96" y="343.37" width="63.60" height="2.82"/><rect x="70.26" y="346.19" width="53.00" height="2.82"/><rect x="75.56" y="349.01" width="42.40" height="2.82"/><rect x="83.51" y="351.83" width="26.50" height="2.82"/></g><g fill="#fbfdfa"><rect x="78.21" y="343.37" width="2.65" height="2.82"/><rect x="128.56" y="261.59" width="2.65" height="2.82"/><rect x="99.41" y="346.19" width="2.65" height="2.82"/><rect x="117.96" y="284.15" width="2.65" height="2.82"/><rect x="131.21" y="278.51" width="2.65" height="2.82"/><rect x="70.26" y="323.63" width="2.65" height="2.82"/><rect x="128.56" y="337.73" width="2.65" height="2.82"/><rect x="117.96" y="309.53" width="2.65" height="2.82"/><rect x="62.31" y="332.09" width="2.65" height="2.82"/><rect x="43.76" y="292.61" width="2.65" height="2.82"/><rect x="117.96" y="346.19" width="2.65" height="2.82"/><rect x="102.06" y="315.17" width="2.65" height="2.82"/><rect x="104.71" y="340.55" width="2.65" height="2.82"/><rect x="112.66" y="261.59" width="2.65" height="2.82"/><rect x="99.41" y="255.95" width="2.65" height="2.82"/><rect x="120.61" y="275.69" width="2.65" height="2.82"/><rect x="80.86" y="315.17" width="2.65" height="2.82"/><rect x="144.46" y="292.61" width="2.65" height="2.82"/><rect x="107.36" y="329.27" width="2.65" height="2.82"/><rect x="102.06" y="340.55" width="2.65" height="2.82"/><rect x="96.76" y="334.91" width="2.65" height="2.82"/><rect x="136.51" y="312.35" width="2.65" height="2.82"/><rect x="136.51" y="278.51" width="2.65" height="2.82"/><rect x="83.51" y="346.19" width="2.65" height="2.82"/><rect x="128.56" y="340.55" width="2.65" height="2.82"/><rect x="83.51" y="289.79" width="2.65" height="2.82"/><rect x="117.96" y="253.13" width="2.65" height="2.82"/><rect x="96.76" y="250.31" width="2.65" height="2.82"/><rect x="107.36" y="264.41" width="2.65" height="2.82"/><rect x="110.01" y="312.35" width="2.65" height="2.82"/><rect x="43.76" y="306.71" width="2.65" height="2.82"/><rect x="136.51" y="298.25" width="2.65" height="2.82"/><rect x="131.21" y="286.97" width="2.65" height="2.82"/><rect x="123.26" y="281.33" width="2.65" height="2.82"/><rect x="43.76" y="292.61" width="2.65" height="2.82"/><rect x="70.26" y="312.35" width="2.65" height="2.82"/><rect x="86.16" y="349.01" width="2.65" height="2.82"/><rect x="80.86" y="264.41" width="2.65" height="2.82"/><rect x="94.11" y="295.43" width="2.65" height="2.82"/><rect x="99.41" y="261.59" width="2.65" height="2.82"/><rect x="102.06" y="306.71" width="2.65" height="2.82"/><rect x="115.31" y="332.09" width="2.65" height="2.82"/><rect x="123.26" y="286.97" width="2.65" height="2.82"/><rect x="78.21" y="292.61" width="2.65" height="2.82"/><rect x="110.01" y="284.15" width="2.65" height="2.82"/><rect x="125.91" y="292.61" width="2.65" height="2.82"/><rect x="131.21" y="298.25" width="2.65" height="2.82"/><rect x="136.51" y="295.43" width="2.65" height="2.82"/><rect x="144.46" y="298.25" width="2.65" height="2.82"/><rect x="115.31" y="301.07" width="2.65" height="2.82"/><rect x="139.16" y="286.97" width="2.65" height="2.82"/><rect x="99.41" y="284.15" width="2.65" height="2.82"/><rect x="144.46" y="320.81" width="2.65" height="2.82"/><rect x="88.81" y="343.37" width="2.65" height="2.82"/><rect x="139.16" y="295.43" width="2.65" height="2.82"/><rect x="67.61" y="303.89" width="2.65" height="2.82"/><rect x="67.61" y="295.43" width="2.65" height="2.82"/><rect x="99.41" y="346.19" width="2.65" height="2.82"/><rect x="80.86" y="292.61" width="2.65" height="2.82"/><rect x="102.06" y="255.95" width="2.65" height="2.82"/><rect x="88.81" y="329.27" width="2.65" height="2.82"/><rect x="83.51" y="281.33" width="2.65" height="2.82"/><rect x="91.46" y="270.05" width="2.65" height="2.82"/><rect x="91.46" y="298.25" width="2.65" height="2.82"/><rect x="112.66" y="267.23" width="2.65" height="2.82"/><rect x="51.71" y="298.25" width="2.65" height="2.82"/><rect x="133.86" y="317.99" width="2.65" height="2.82"/><rect x="83.51" y="278.51" width="2.65" height="2.82"/><rect x="125.91" y="272.87" width="2.65" height="2.82"/><rect x="91.46" y="340.55" width="2.65" height="2.82"/><rect x="67.61" y="286.97" width="2.65" height="2.82"/><rect x="96.76" y="343.37" width="2.65" height="2.82"/><rect x="59.66" y="312.35" width="2.65" height="2.82"/><rect x="86.16" y="332.09" width="2.65" height="2.82"/><rect x="83.51" y="320.81" width="2.65" height="2.82"/><rect x="96.76" y="351.83" width="2.65" height="2.82"/><rect x="107.36" y="289.79" width="2.65" height="2.82"/><rect x="107.36" y="340.55" width="2.65" height="2.82"/><rect x="107.36" y="264.41" width="2.65" height="2.82"/><rect x="123.26" y="315.17" width="2.65" height="2.82"/><rect x="131.21" y="278.51" width="2.65" height="2.82"/><rect x="86.16" y="334.91" width="2.65" height="2.82"/><rect x="94.11" y="278.51" width="2.65" height="2.82"/><rect x="86.16" y="258.77" width="2.65" height="2.82"/></g><path d="M35.81 241.0V357.6M38.46 241.0V357.6M41.11 241.0V357.6M43.76 241.0V357.6M46.41 241.0V357.6M49.06 241.0V357.6M51.71 241.0V357.6M54.36 241.0V357.6M57.01 241.0V357.6M59.66 241.0V357.6M62.31 241.0V357.6M64.96 241.0V357.6M67.61 241.0V357.6M70.26 241.0V357.6M72.91 241.0V357.6M75.56 241.0V357.6M78.21 241.0V357.6M80.86 241.0V357.6M83.51 241.0V357.6M86.16 241.0V357.6M88.81 241.0V357.6M91.46 241.0V357.6M94.11 241.0V357.6M96.76 241.0V357.6M99.41 241.0V357.6M102.06 241.0V357.6M104.71 241.0V357.6M107.36 241.0V357.6M110.01 241.0V357.6M112.66 241.0V357.6M115.31 241.0V357.6M117.96 241.0V357.6M120.61 241.0V357.6M123.26 241.0V357.6M125.91 241.0V357.6M128.56 241.0V357.6M131.21 241.0V357.6M133.86 241.0V357.6M136.51 241.0V357.6M139.16 241.0V357.6M141.81 241.0V357.6M144.46 241.0V357.6M147.11 241.0V357.6M149.76 241.0V357.6M152.41 241.0V357.6M155.06 241.0V357.6M157.71 241.0V357.6M38.9 236.21H155.5M38.9 239.03H155.5M38.9 241.85H155.5M38.9 244.67H155.5M38.9 247.49H155.5M38.9 250.31H155.5M38.9 253.13H155.5M38.9 255.95H155.5M38.9 258.77H155.5M38.9 261.59H155.5M38.9 264.41H155.5M38.9 267.23H155.5M38.9 270.05H155.5M38.9 272.87H155.5M38.9 275.69H155.5M38.9 278.51H155.5M38.9 281.33H155.5M38.9 284.15H155.5M38.9 286.97H155.5M38.9 289.79H155.5M38.9 292.61H155.5M38.9 295.43H155.5M38.9 298.25H155.5M38.9 301.07H155.5M38.9 303.89H155.5M38.9 306.71H155.5M38.9 309.53H155.5M38.9 312.35H155.5M38.9 315.17H155.5M38.9 317.99H155.5M38.9 320.81H155.5M38.9 323.63H155.5M38.9 326.45H155.5M38.9 329.27H155.5M38.9 332.09H155.5M38.9 334.91H155.5M38.9 337.73H155.5M38.9 340.55H155.5M38.9 343.37H155.5M38.9 346.19H155.5M38.9 349.01H155.5M38.9 351.83H155.5M38.9 354.65H155.5M38.9 357.47H155.5M38.9 360.29H155.5" stroke="#e9f0e7" stroke-width="0.25" fill="none"/><g fill="#e8008f"><rect x="72.91" y="250.31" width="2.70" height="2.87"/><rect x="125.91" y="253.13" width="2.70" height="2.87"/><rect x="139.16" y="264.41" width="2.70" height="2.87"/><rect x="51.71" y="275.69" width="2.70" height="2.87"/><rect x="78.21" y="306.71" width="2.70" height="2.87"/><rect x="59.66" y="320.81" width="2.70" height="2.87"/><rect x="86.16" y="323.63" width="2.70" height="2.87"/><rect x="83.51" y="326.45" width="2.70" height="2.87"/></g><g fill="#d98ae8"><rect x="70.26" y="250.31" width="2.70" height="2.87"/><rect x="78.21" y="247.49" width="2.70" height="2.87"/><rect x="107.36" y="250.31" width="2.70" height="2.87"/><rect x="128.56" y="261.59" width="2.70" height="2.87"/><rect x="139.16" y="267.23" width="2.70" height="2.87"/><rect x="133.86" y="264.41" width="2.70" height="2.87"/><rect x="133.86" y="267.23" width="2.70" height="2.87"/><rect x="133.86" y="270.05" width="2.70" height="2.87"/><rect x="133.86" y="272.87" width="2.70" height="2.87"/><rect x="123.26" y="272.87" width="2.70" height="2.87"/><rect x="125.91" y="272.87" width="2.70" height="2.87"/><rect x="128.56" y="272.87" width="2.70" height="2.87"/><rect x="131.21" y="272.87" width="2.70" height="2.87"/><rect x="136.51" y="272.87" width="2.70" height="2.87"/><rect x="139.16" y="272.87" width="2.70" height="2.87"/><rect x="141.81" y="272.87" width="2.70" height="2.87"/><rect x="131.21" y="278.51" width="2.70" height="2.87"/><rect x="131.21" y="281.33" width="2.70" height="2.87"/><rect x="131.21" y="284.15" width="2.70" height="2.87"/><rect x="131.21" y="286.97" width="2.70" height="2.87"/><rect x="133.86" y="278.51" width="2.70" height="2.87"/><rect x="133.86" y="281.33" width="2.70" height="2.87"/><rect x="133.86" y="284.15" width="2.70" height="2.87"/><rect x="133.86" y="286.97" width="2.70" height="2.87"/><rect x="136.51" y="278.51" width="2.70" height="2.87"/><rect x="136.51" y="281.33" width="2.70" height="2.87"/><rect x="136.51" y="284.15" width="2.70" height="2.87"/><rect x="136.51" y="286.97" width="2.70" height="2.87"/><rect x="139.16" y="278.51" width="2.70" height="2.87"/><rect x="139.16" y="281.33" width="2.70" height="2.87"/><rect x="139.16" y="284.15" width="2.70" height="2.87"/><rect x="139.16" y="286.97" width="2.70" height="2.87"/><rect x="141.81" y="278.51" width="2.70" height="2.87"/><rect x="141.81" y="281.33" width="2.70" height="2.87"/><rect x="141.81" y="284.15" width="2.70" height="2.87"/><rect x="141.81" y="286.97" width="2.70" height="2.87"/><rect x="144.46" y="278.51" width="2.70" height="2.87"/><rect x="144.46" y="284.15" width="2.70" height="2.87"/><rect x="144.46" y="286.97" width="2.70" height="2.87"/><rect x="147.11" y="278.51" width="2.70" height="2.87"/><rect x="147.11" y="281.33" width="2.70" height="2.87"/><rect x="147.11" y="284.15" width="2.70" height="2.87"/><rect x="147.11" y="286.97" width="2.70" height="2.87"/><rect x="125.91" y="284.15" width="2.70" height="2.87"/><rect x="125.91" y="286.97" width="2.70" height="2.87"/><rect x="128.56" y="284.15" width="2.70" height="2.87"/><rect x="128.56" y="286.97" width="2.70" height="2.87"/><rect x="110.01" y="286.97" width="2.70" height="2.87"/><rect x="112.66" y="286.97" width="2.70" height="2.87"/><rect x="115.31" y="286.97" width="2.70" height="2.87"/><rect x="117.96" y="286.97" width="2.70" height="2.87"/><rect x="120.61" y="286.97" width="2.70" height="2.87"/><rect x="72.91" y="267.23" width="2.70" height="2.87"/><rect x="75.56" y="267.23" width="2.70" height="2.87"/><rect x="78.21" y="267.23" width="2.70" height="2.87"/><rect x="80.86" y="267.23" width="2.70" height="2.87"/><rect x="83.51" y="267.23" width="2.70" height="2.87"/><rect x="86.16" y="267.23" width="2.70" height="2.87"/><rect x="88.81" y="267.23" width="2.70" height="2.87"/><rect x="91.46" y="261.59" width="2.70" height="2.87"/><rect x="91.46" y="264.41" width="2.70" height="2.87"/><rect x="91.46" y="267.23" width="2.70" height="2.87"/><rect x="91.46" y="270.05" width="2.70" height="2.87"/><rect x="94.11" y="264.41" width="2.70" height="2.87"/><rect x="94.11" y="267.23" width="2.70" height="2.87"/><rect x="96.76" y="267.23" width="2.70" height="2.87"/><rect x="99.41" y="267.23" width="2.70" height="2.87"/><rect x="102.06" y="270.05" width="2.70" height="2.87"/><rect x="107.36" y="270.05" width="2.70" height="2.87"/><rect x="107.36" y="275.69" width="2.70" height="2.87"/><rect x="107.36" y="281.33" width="2.70" height="2.87"/><rect x="110.01" y="281.33" width="2.70" height="2.87"/><rect x="117.96" y="281.33" width="2.70" height="2.87"/><rect x="94.11" y="278.51" width="2.70" height="2.87"/><rect x="96.76" y="278.51" width="2.70" height="2.87"/><rect x="102.06" y="278.51" width="2.70" height="2.87"/><rect x="102.06" y="281.33" width="2.70" height="2.87"/><rect x="91.46" y="284.15" width="2.70" height="2.87"/><rect x="94.11" y="284.15" width="2.70" height="2.87"/><rect x="88.81" y="289.79" width="2.70" height="2.87"/><rect x="41.11" y="289.79" width="2.70" height="2.87"/><rect x="43.76" y="289.79" width="2.70" height="2.87"/><rect x="46.41" y="289.79" width="2.70" height="2.87"/><rect x="49.06" y="289.79" width="2.70" height="2.87"/><rect x="51.71" y="289.79" width="2.70" height="2.87"/><rect x="54.36" y="289.79" width="2.70" height="2.87"/><rect x="57.01" y="289.79" width="2.70" height="2.87"/><rect x="59.66" y="289.79" width="2.70" height="2.87"/><rect x="62.31" y="289.79" width="2.70" height="2.87"/><rect x="64.96" y="289.79" width="2.70" height="2.87"/><rect x="67.61" y="289.79" width="2.70" height="2.87"/><rect x="70.26" y="289.79" width="2.70" height="2.87"/><rect x="72.91" y="289.79" width="2.70" height="2.87"/><rect x="75.56" y="289.79" width="2.70" height="2.87"/><rect x="78.21" y="289.79" width="2.70" height="2.87"/><rect x="80.86" y="289.79" width="2.70" height="2.87"/><rect x="43.76" y="286.97" width="2.70" height="2.87"/><rect x="46.41" y="286.97" width="2.70" height="2.87"/><rect x="49.06" y="286.97" width="2.70" height="2.87"/><rect x="51.71" y="286.97" width="2.70" height="2.87"/><rect x="54.36" y="286.97" width="2.70" height="2.87"/><rect x="70.26" y="286.97" width="2.70" height="2.87"/><rect x="72.91" y="286.97" width="2.70" height="2.87"/><rect x="75.56" y="286.97" width="2.70" height="2.87"/><rect x="78.21" y="286.97" width="2.70" height="2.87"/><rect x="64.96" y="286.97" width="2.70" height="2.87"/><rect x="54.36" y="284.15" width="2.70" height="2.87"/><rect x="57.01" y="284.15" width="2.70" height="2.87"/><rect x="59.66" y="284.15" width="2.70" height="2.87"/><rect x="64.96" y="281.33" width="2.70" height="2.87"/><rect x="67.61" y="281.33" width="2.70" height="2.87"/><rect x="70.26" y="281.33" width="2.70" height="2.87"/><rect x="75.56" y="281.33" width="2.70" height="2.87"/><rect x="67.61" y="275.69" width="2.70" height="2.87"/><rect x="70.26" y="275.69" width="2.70" height="2.87"/><rect x="59.66" y="278.51" width="2.70" height="2.87"/><rect x="62.31" y="278.51" width="2.70" height="2.87"/><rect x="62.31" y="275.69" width="2.70" height="2.87"/><rect x="54.36" y="278.51" width="2.70" height="2.87"/><rect x="49.06" y="270.05" width="2.70" height="2.87"/><rect x="59.66" y="270.05" width="2.70" height="2.87"/><rect x="67.61" y="267.23" width="2.70" height="2.87"/><rect x="80.86" y="272.87" width="2.70" height="2.87"/><rect x="133.86" y="295.43" width="2.70" height="2.87"/><rect x="136.51" y="295.43" width="2.70" height="2.87"/><rect x="107.36" y="306.71" width="2.70" height="2.87"/><rect x="123.26" y="309.53" width="2.70" height="2.87"/><rect x="120.61" y="312.35" width="2.70" height="2.87"/></g><g fill="#d7a3cf"><rect x="78.21" y="253.13" width="2.70" height="2.87"/><rect x="64.96" y="306.71" width="2.70" height="2.87"/><rect x="133.86" y="303.89" width="2.70" height="2.87"/></g><g fill="#f6faf5"><rect x="144.46" y="281.33" width="2.70" height="2.87"/></g><g fill="#2fd9d0"><rect x="107.36" y="267.23" width="2.70" height="2.87"/></g><g fill="#3535e0"><rect x="96.76" y="286.97" width="2.70" height="2.87"/><rect x="125.91" y="326.45" width="2.70" height="2.87"/><rect x="72.91" y="343.37" width="2.70" height="2.87"/></g><g fill="#b6e06a"><rect x="99.41" y="275.69" width="2.70" height="2.87"/><rect x="83.51" y="289.79" width="2.70" height="2.87"/></g><g fill="#f2d000"><rect x="104.71" y="292.61" width="2.70" height="2.87"/><rect x="141.81" y="312.35" width="2.70" height="2.87"/><rect x="102.06" y="329.27" width="2.70" height="2.87"/></g><g fill="#3cb46e"><rect x="99.41" y="329.27" width="2.70" height="2.87"/></g><g fill="#7a3030"><rect x="107.36" y="346.19" width="2.70" height="2.87"/></g></g><circle cx="97.20" cy="299.30" r="58.30" fill="none" stroke="#7a7a7a" stroke-width="1"/><rect x="93.30" y="356.70" width="7.8" height="2.6" rx="0.6" fill="#8c8c8c"/><path d="M95.30 358.90 L97.20 356.40 L99.10 358.90 Z" fill="#fff"/><clipPath id="wc1"><circle cx="237.30" cy="299.30" r="58.00"/></clipPath><circle cx="237.30" cy="299.30" r="58.30" fill="#d8d8d8"/><g clip-path="url(#wc1)"><g fill="#f2f8f1"><rect x="221.30" y="244.65" width="31.80" height="2.82"/><rect x="216.00" y="247.47" width="45.05" height="2.82"/><rect x="208.05" y="250.29" width="58.30" height="2.82"/><rect x="205.40" y="253.11" width="63.60" height="2.82"/><rect x="202.75" y="255.93" width="71.55" height="2.82"/><rect x="197.45" y="258.75" width="79.50" height="2.82"/><rect x="194.80" y="261.57" width="84.80" height="2.82"/><rect x="192.15" y="264.39" width="90.10" height="2.82"/><rect x="192.15" y="267.21" width="90.10" height="2.82"/><rect x="189.50" y="270.03" width="95.40" height="2.82"/><rect x="186.85" y="272.85" width="100.70" height="2.82"/><rect x="186.85" y="275.67" width="100.70" height="2.82"/><rect x="184.20" y="278.49" width="106.00" height="2.82"/><rect x="184.20" y="281.31" width="106.00" height="2.82"/><rect x="184.20" y="284.13" width="106.00" height="2.82"/><rect x="184.20" y="286.95" width="108.65" height="2.82"/><rect x="181.55" y="289.77" width="111.30" height="2.82"/><rect x="181.55" y="292.59" width="111.30" height="2.82"/><rect x="181.55" y="295.41" width="111.30" height="2.82"/><rect x="181.55" y="298.23" width="111.30" height="2.82"/><rect x="181.55" y="301.05" width="111.30" height="2.82"/><rect x="181.55" y="303.87" width="111.30" height="2.82"/><rect x="181.55" y="306.69" width="111.30" height="2.82"/><rect x="184.20" y="309.51" width="108.65" height="2.82"/><rect x="184.20" y="312.33" width="106.00" height="2.82"/><rect x="184.20" y="315.15" width="106.00" height="2.82"/><rect x="186.85" y="317.97" width="103.35" height="2.82"/><rect x="186.85" y="320.79" width="100.70" height="2.82"/><rect x="189.50" y="323.61" width="95.40" height="2.82"/><rect x="189.50" y="326.43" width="95.40" height="2.82"/><rect x="192.15" y="329.25" width="90.10" height="2.82"/><rect x="194.80" y="332.07" width="84.80" height="2.82"/><rect x="197.45" y="334.89" width="79.50" height="2.82"/><rect x="200.10" y="337.71" width="74.20" height="2.82"/><rect x="202.75" y="340.53" width="68.90" height="2.82"/><rect x="205.40" y="343.35" width="63.60" height="2.82"/><rect x="210.70" y="346.17" width="53.00" height="2.82"/><rect x="216.00" y="348.99" width="42.40" height="2.82"/><rect x="223.95" y="351.81" width="26.50" height="2.82"/></g><g fill="#fbfdfa"><rect x="194.80" y="295.41" width="2.65" height="2.82"/><rect x="274.30" y="267.21" width="2.65" height="2.82"/><rect x="247.80" y="250.29" width="2.65" height="2.82"/><rect x="231.90" y="323.61" width="2.65" height="2.82"/><rect x="276.95" y="317.97" width="2.65" height="2.82"/><rect x="247.80" y="275.67" width="2.65" height="2.82"/><rect x="210.70" y="295.41" width="2.65" height="2.82"/><rect x="284.90" y="298.23" width="2.65" height="2.82"/><rect x="234.55" y="315.15" width="2.65" height="2.82"/><rect x="266.35" y="326.43" width="2.65" height="2.82"/><rect x="245.15" y="253.11" width="2.65" height="2.82"/><rect x="213.35" y="340.53" width="2.65" height="2.82"/><rect x="210.70" y="255.93" width="2.65" height="2.82"/><rect x="192.15" y="272.85" width="2.65" height="2.82"/><rect x="221.30" y="289.77" width="2.65" height="2.82"/><rect x="229.25" y="284.13" width="2.65" height="2.82"/><rect x="223.95" y="278.49" width="2.65" height="2.82"/><rect x="216.00" y="340.53" width="2.65" height="2.82"/><rect x="218.65" y="247.47" width="2.65" height="2.82"/><rect x="282.25" y="292.59" width="2.65" height="2.82"/><rect x="223.95" y="261.57" width="2.65" height="2.82"/><rect x="234.55" y="346.17" width="2.65" height="2.82"/><rect x="253.10" y="264.39" width="2.65" height="2.82"/><rect x="284.90" y="286.95" width="2.65" height="2.82"/><rect x="271.65" y="315.15" width="2.65" height="2.82"/><rect x="205.40" y="267.21" width="2.65" height="2.82"/><rect x="245.15" y="258.75" width="2.65" height="2.82"/><rect x="276.95" y="315.15" width="2.65" height="2.82"/><rect x="237.20" y="278.49" width="2.65" height="2.82"/><rect x="210.70" y="315.15" width="2.65" height="2.82"/><rect x="208.05" y="270.03" width="2.65" height="2.82"/><rect x="287.55" y="295.41" width="2.65" height="2.82"/><rect x="255.75" y="332.07" width="2.65" height="2.82"/><rect x="205.40" y="258.75" width="2.65" height="2.82"/><rect x="255.75" y="337.71" width="2.65" height="2.82"/><rect x="234.55" y="284.13" width="2.65" height="2.82"/><rect x="216.00" y="329.25" width="2.65" height="2.82"/><rect x="200.10" y="292.59" width="2.65" height="2.82"/><rect x="200.10" y="312.33" width="2.65" height="2.82"/><rect x="223.95" y="255.93" width="2.65" height="2.82"/><rect x="242.50" y="255.93" width="2.65" height="2.82"/><rect x="213.35" y="281.31" width="2.65" height="2.82"/><rect x="210.70" y="278.49" width="2.65" height="2.82"/><rect x="194.80" y="292.59" width="2.65" height="2.82"/><rect x="200.10" y="337.71" width="2.65" height="2.82"/><rect x="242.50" y="261.57" width="2.65" height="2.82"/><rect x="253.10" y="326.43" width="2.65" height="2.82"/><rect x="229.25" y="309.51" width="2.65" height="2.82"/><rect x="194.80" y="289.77" width="2.65" height="2.82"/><rect x="213.35" y="303.87" width="2.65" height="2.82"/><rect x="282.25" y="292.59" width="2.65" height="2.82"/><rect x="202.75" y="255.93" width="2.65" height="2.82"/><rect x="186.85" y="306.69" width="2.65" height="2.82"/><rect x="239.85" y="289.77" width="2.65" height="2.82"/><rect x="245.15" y="320.79" width="2.65" height="2.82"/><rect x="274.30" y="323.61" width="2.65" height="2.82"/><rect x="282.25" y="298.23" width="2.65" height="2.82"/><rect x="223.95" y="289.77" width="2.65" height="2.82"/><rect x="213.35" y="275.67" width="2.65" height="2.82"/><rect x="282.25" y="309.51" width="2.65" height="2.82"/><rect x="239.85" y="289.77" width="2.65" height="2.82"/><rect x="253.10" y="247.47" width="2.65" height="2.82"/><rect x="282.25" y="306.69" width="2.65" height="2.82"/><rect x="271.65" y="309.51" width="2.65" height="2.82"/><rect x="245.15" y="284.13" width="2.65" height="2.82"/><rect x="261.05" y="295.41" width="2.65" height="2.82"/><rect x="216.00" y="272.85" width="2.65" height="2.82"/><rect x="226.60" y="317.97" width="2.65" height="2.82"/><rect x="234.55" y="306.69" width="2.65" height="2.82"/><rect x="186.85" y="301.05" width="2.65" height="2.82"/><rect x="197.45" y="323.61" width="2.65" height="2.82"/><rect x="218.65" y="334.89" width="2.65" height="2.82"/><rect x="202.75" y="289.77" width="2.65" height="2.82"/><rect x="237.20" y="332.07" width="2.65" height="2.82"/><rect x="216.00" y="315.15" width="2.65" height="2.82"/><rect x="266.35" y="317.97" width="2.65" height="2.82"/><rect x="218.65" y="309.51" width="2.65" height="2.82"/><rect x="242.50" y="334.89" width="2.65" height="2.82"/><rect x="287.55" y="289.77" width="2.65" height="2.82"/><rect x="223.95" y="301.05" width="2.65" height="2.82"/><rect x="200.10" y="320.79" width="2.65" height="2.82"/><rect x="261.05" y="261.57" width="2.65" height="2.82"/><rect x="237.20" y="295.41" width="2.65" height="2.82"/></g><path d="M176.25 241.0V357.6M178.90 241.0V357.6M181.55 241.0V357.6M184.20 241.0V357.6M186.85 241.0V357.6M189.50 241.0V357.6M192.15 241.0V357.6M194.80 241.0V357.6M197.45 241.0V357.6M200.10 241.0V357.6M202.75 241.0V357.6M205.40 241.0V357.6M208.05 241.0V357.6M210.70 241.0V357.6M213.35 241.0V357.6M216.00 241.0V357.6M218.65 241.0V357.6M221.30 241.0V357.6M223.95 241.0V357.6M226.60 241.0V357.6M229.25 241.0V357.6M231.90 241.0V357.6M234.55 241.0V357.6M237.20 241.0V357.6M239.85 241.0V357.6M242.50 241.0V357.6M245.15 241.0V357.6M247.80 241.0V357.6M250.45 241.0V357.6M253.10 241.0V357.6M255.75 241.0V357.6M258.40 241.0V357.6M261.05 241.0V357.6M263.70 241.0V357.6M266.35 241.0V357.6M269.00 241.0V357.6M271.65 241.0V357.6M274.30 241.0V357.6M276.95 241.0V357.6M279.60 241.0V357.6M282.25 241.0V357.6M284.90 241.0V357.6M287.55 241.0V357.6M290.20 241.0V357.6M292.85 241.0V357.6M295.50 241.0V357.6M298.15 241.0V357.6M179.0 236.19H295.6M179.0 239.01H295.6M179.0 241.83H295.6M179.0 244.65H295.6M179.0 247.47H295.6M179.0 250.29H295.6M179.0 253.11H295.6M179.0 255.93H295.6M179.0 258.75H295.6M179.0 261.57H295.6M179.0 264.39H295.6M179.0 267.21H295.6M179.0 270.03H295.6M179.0 272.85H295.6M179.0 275.67H295.6M179.0 278.49H295.6M179.0 281.31H295.6M179.0 284.13H295.6M179.0 286.95H295.6M179.0 289.77H295.6M179.0 292.59H295.6M179.0 295.41H295.6M179.0 298.23H295.6M179.0 301.05H295.6M179.0 303.87H295.6M179.0 306.69H295.6M179.0 309.51H295.6M179.0 312.33H295.6M179.0 315.15H295.6M179.0 317.97H295.6M179.0 320.79H295.6M179.0 323.61H295.6M179.0 326.43H295.6M179.0 329.25H295.6M179.0 332.07H295.6M179.0 334.89H295.6M179.0 337.71H295.6M179.0 340.53H295.6M179.0 343.35H295.6M179.0 346.17H295.6M179.0 348.99H295.6M179.0 351.81H295.6M179.0 354.63H295.6M179.0 357.45H295.6M179.0 360.27H295.6" stroke="#e9f0e7" stroke-width="0.25" fill="none"/><g fill="#e8008f"><rect x="221.30" y="247.47" width="2.70" height="2.87"/><rect x="226.60" y="261.57" width="2.70" height="2.87"/><rect x="234.55" y="267.21" width="2.70" height="2.87"/><rect x="258.40" y="267.21" width="2.70" height="2.87"/><rect x="213.35" y="272.85" width="2.70" height="2.87"/><rect x="202.75" y="281.31" width="2.70" height="2.87"/><rect x="245.15" y="284.13" width="2.70" height="2.87"/><rect x="200.10" y="295.41" width="2.70" height="2.87"/><rect x="221.30" y="295.41" width="2.70" height="2.87"/><rect x="186.85" y="323.61" width="2.70" height="2.87"/><rect x="231.90" y="320.79" width="2.70" height="2.87"/><rect x="284.90" y="317.97" width="2.70" height="2.87"/><rect x="223.95" y="340.53" width="2.70" height="2.87"/></g><g fill="#d98ae8"><rect x="210.70" y="253.11" width="2.70" height="2.87"/><rect x="213.35" y="253.11" width="2.70" height="2.87"/><rect x="197.45" y="258.75" width="2.70" height="2.87"/><rect x="200.10" y="258.75" width="2.70" height="2.87"/><rect x="202.75" y="258.75" width="2.70" height="2.87"/><rect x="205.40" y="258.75" width="2.70" height="2.87"/><rect x="208.05" y="258.75" width="2.70" height="2.87"/><rect x="194.80" y="261.57" width="2.70" height="2.87"/><rect x="213.35" y="258.75" width="2.70" height="2.87"/><rect x="218.65" y="258.75" width="2.70" height="2.87"/><rect x="221.30" y="258.75" width="2.70" height="2.87"/><rect x="234.55" y="255.93" width="2.70" height="2.87"/><rect x="239.85" y="255.93" width="2.70" height="2.87"/><rect x="271.65" y="264.39" width="2.70" height="2.87"/><rect x="239.85" y="270.03" width="2.70" height="2.87"/><rect x="242.50" y="270.03" width="2.70" height="2.87"/><rect x="263.70" y="275.67" width="2.70" height="2.87"/><rect x="223.95" y="275.67" width="2.70" height="2.87"/><rect x="226.60" y="275.67" width="2.70" height="2.87"/><rect x="223.95" y="278.49" width="2.70" height="2.87"/><rect x="226.60" y="278.49" width="2.70" height="2.87"/><rect x="229.25" y="281.31" width="2.70" height="2.87"/><rect x="231.90" y="281.31" width="2.70" height="2.87"/><rect x="216.00" y="278.49" width="2.70" height="2.87"/><rect x="237.20" y="278.49" width="2.70" height="2.87"/><rect x="258.40" y="278.49" width="2.70" height="2.87"/><rect x="271.65" y="281.31" width="2.70" height="2.87"/><rect x="274.30" y="281.31" width="2.70" height="2.87"/><rect x="279.60" y="281.31" width="2.70" height="2.87"/><rect x="276.95" y="284.13" width="2.70" height="2.87"/><rect x="284.90" y="284.13" width="2.70" height="2.87"/><rect x="287.55" y="284.13" width="2.70" height="2.87"/><rect x="284.90" y="286.95" width="2.70" height="2.87"/><rect x="284.90" y="289.77" width="2.70" height="2.87"/><rect x="284.90" y="292.59" width="2.70" height="2.87"/><rect x="290.20" y="289.77" width="2.70" height="2.87"/><rect x="290.20" y="292.59" width="2.70" height="2.87"/><rect x="205.40" y="289.77" width="2.70" height="2.87"/><rect x="208.05" y="289.77" width="2.70" height="2.87"/><rect x="210.70" y="289.77" width="2.70" height="2.87"/><rect x="205.40" y="286.95" width="2.70" height="2.87"/><rect x="247.80" y="289.77" width="2.70" height="2.87"/><rect x="250.45" y="289.77" width="2.70" height="2.87"/><rect x="242.50" y="289.77" width="2.70" height="2.87"/><rect x="261.05" y="292.59" width="2.70" height="2.87"/><rect x="263.70" y="292.59" width="2.70" height="2.87"/><rect x="266.35" y="292.59" width="2.70" height="2.87"/><rect x="269.00" y="292.59" width="2.70" height="2.87"/><rect x="271.65" y="292.59" width="2.70" height="2.87"/><rect x="274.30" y="292.59" width="2.70" height="2.87"/><rect x="276.95" y="292.59" width="2.70" height="2.87"/><rect x="279.60" y="292.59" width="2.70" height="2.87"/><rect x="184.20" y="292.59" width="2.70" height="2.87"/><rect x="184.20" y="295.41" width="2.70" height="2.87"/><rect x="189.50" y="295.41" width="2.70" height="2.87"/><rect x="192.15" y="298.23" width="2.70" height="2.87"/><rect x="194.80" y="298.23" width="2.70" height="2.87"/><rect x="218.65" y="292.59" width="2.70" height="2.87"/><rect x="221.30" y="292.59" width="2.70" height="2.87"/><rect x="223.95" y="292.59" width="2.70" height="2.87"/><rect x="226.60" y="292.59" width="2.70" height="2.87"/><rect x="229.25" y="292.59" width="2.70" height="2.87"/><rect x="218.65" y="295.41" width="2.70" height="2.87"/><rect x="223.95" y="295.41" width="2.70" height="2.87"/><rect x="226.60" y="298.23" width="2.70" height="2.87"/><rect x="229.25" y="298.23" width="2.70" height="2.87"/><rect x="258.40" y="295.41" width="2.70" height="2.87"/><rect x="263.70" y="298.23" width="2.70" height="2.87"/><rect x="266.35" y="298.23" width="2.70" height="2.87"/><rect x="269.00" y="298.23" width="2.70" height="2.87"/><rect x="271.65" y="298.23" width="2.70" height="2.87"/><rect x="274.30" y="298.23" width="2.70" height="2.87"/><rect x="181.55" y="303.87" width="2.70" height="2.87"/><rect x="184.20" y="303.87" width="2.70" height="2.87"/><rect x="186.85" y="303.87" width="2.70" height="2.87"/><rect x="189.50" y="303.87" width="2.70" height="2.87"/><rect x="192.15" y="303.87" width="2.70" height="2.87"/><rect x="194.80" y="303.87" width="2.70" height="2.87"/><rect x="197.45" y="303.87" width="2.70" height="2.87"/><rect x="200.10" y="303.87" width="2.70" height="2.87"/><rect x="202.75" y="303.87" width="2.70" height="2.87"/><rect x="205.40" y="303.87" width="2.70" height="2.87"/><rect x="208.05" y="303.87" width="2.70" height="2.87"/><rect x="184.20" y="306.69" width="2.70" height="2.87"/><rect x="186.85" y="306.69" width="2.70" height="2.87"/><rect x="189.50" y="306.69" width="2.70" height="2.87"/><rect x="192.15" y="306.69" width="2.70" height="2.87"/><rect x="194.80" y="306.69" width="2.70" height="2.87"/><rect x="197.45" y="306.69" width="2.70" height="2.87"/><rect x="200.10" y="306.69" width="2.70" height="2.87"/><rect x="202.75" y="306.69" width="2.70" height="2.87"/><rect x="205.40" y="306.69" width="2.70" height="2.87"/><rect x="208.05" y="306.69" width="2.70" height="2.87"/><rect x="213.35" y="301.05" width="2.70" height="2.87"/><rect x="216.00" y="301.05" width="2.70" height="2.87"/><rect x="213.35" y="306.69" width="2.70" height="2.87"/><rect x="223.95" y="301.05" width="2.70" height="2.87"/><rect x="200.10" y="298.23" width="2.70" height="2.87"/><rect x="231.90" y="298.23" width="2.70" height="2.87"/><rect x="231.90" y="303.87" width="2.70" height="2.87"/><rect x="237.20" y="303.87" width="2.70" height="2.87"/><rect x="239.85" y="303.87" width="2.70" height="2.87"/><rect x="242.50" y="303.87" width="2.70" height="2.87"/><rect x="245.15" y="303.87" width="2.70" height="2.87"/><rect x="247.80" y="301.05" width="2.70" height="2.87"/><rect x="253.10" y="303.87" width="2.70" height="2.87"/><rect x="255.75" y="303.87" width="2.70" height="2.87"/><rect x="258.40" y="303.87" width="2.70" height="2.87"/><rect x="261.05" y="303.87" width="2.70" height="2.87"/><rect x="263.70" y="303.87" width="2.70" height="2.87"/><rect x="266.35" y="303.87" width="2.70" height="2.87"/><rect x="269.00" y="303.87" width="2.70" height="2.87"/><rect x="271.65" y="303.87" width="2.70" height="2.87"/><rect x="274.30" y="303.87" width="2.70" height="2.87"/><rect x="276.95" y="303.87" width="2.70" height="2.87"/><rect x="279.60" y="303.87" width="2.70" height="2.87"/><rect x="282.25" y="303.87" width="2.70" height="2.87"/><rect x="284.90" y="303.87" width="2.70" height="2.87"/><rect x="287.55" y="303.87" width="2.70" height="2.87"/><rect x="290.20" y="303.87" width="2.70" height="2.87"/><rect x="279.60" y="301.05" width="2.70" height="2.87"/><rect x="282.25" y="301.05" width="2.70" height="2.87"/><rect x="284.90" y="301.05" width="2.70" height="2.87"/><rect x="287.55" y="301.05" width="2.70" height="2.87"/><rect x="290.20" y="301.05" width="2.70" height="2.87"/><rect x="253.10" y="301.05" width="2.70" height="2.87"/><rect x="202.75" y="323.61" width="2.70" height="2.87"/></g><g fill="#3cb46e"><rect x="221.30" y="278.49" width="2.70" height="2.87"/><rect x="210.70" y="284.13" width="2.70" height="2.87"/><rect x="242.50" y="337.71" width="2.70" height="2.87"/></g><g fill="#7a3030"><rect x="184.20" y="284.13" width="2.70" height="2.87"/><rect x="231.90" y="286.95" width="2.70" height="2.87"/><rect x="279.60" y="326.43" width="2.70" height="2.87"/></g><g fill="#3c7a48"><rect x="255.75" y="286.95" width="2.70" height="2.87"/></g></g><circle cx="237.30" cy="299.30" r="58.30" fill="none" stroke="#7a7a7a" stroke-width="1"/><rect x="233.40" y="356.70" width="7.8" height="2.6" rx="0.6" fill="#8c8c8c"/><path d="M235.40 358.90 L237.30 356.40 L239.20 358.90 Z" fill="#fff"/><clipPath id="wc2"><circle cx="377.60" cy="299.30" r="58.00"/></clipPath><circle cx="377.60" cy="299.30" r="58.30" fill="#d8d8d8"/><g clip-path="url(#wc2)"><g fill="#f2f8f1"><rect x="361.49" y="244.64" width="31.80" height="2.82"/><rect x="356.19" y="247.46" width="45.05" height="2.82"/><rect x="350.89" y="250.28" width="55.65" height="2.82"/><rect x="345.59" y="253.10" width="63.60" height="2.82"/><rect x="342.94" y="255.92" width="71.55" height="2.82"/><rect x="337.64" y="258.74" width="79.50" height="2.82"/><rect x="334.99" y="261.56" width="84.80" height="2.82"/><rect x="334.99" y="264.38" width="87.45" height="2.82"/><rect x="332.34" y="267.20" width="90.10" height="2.82"/><rect x="329.69" y="270.02" width="95.40" height="2.82"/><rect x="327.04" y="272.84" width="100.70" height="2.82"/><rect x="327.04" y="275.66" width="100.70" height="2.82"/><rect x="327.04" y="278.48" width="103.35" height="2.82"/><rect x="324.39" y="281.30" width="106.00" height="2.82"/><rect x="324.39" y="284.12" width="106.00" height="2.82"/><rect x="324.39" y="286.94" width="108.65" height="2.82"/><rect x="321.74" y="289.76" width="111.30" height="2.82"/><rect x="321.74" y="292.58" width="111.30" height="2.82"/><rect x="321.74" y="295.40" width="111.30" height="2.82"/><rect x="321.74" y="298.22" width="111.30" height="2.82"/><rect x="321.74" y="301.04" width="111.30" height="2.82"/><rect x="321.74" y="303.86" width="111.30" height="2.82"/><rect x="321.74" y="306.68" width="111.30" height="2.82"/><rect x="324.39" y="309.50" width="108.65" height="2.82"/><rect x="324.39" y="312.32" width="106.00" height="2.82"/><rect x="324.39" y="315.14" width="106.00" height="2.82"/><rect x="327.04" y="317.96" width="103.35" height="2.82"/><rect x="327.04" y="320.78" width="100.70" height="2.82"/><rect x="329.69" y="323.60" width="98.05" height="2.82"/><rect x="329.69" y="326.42" width="95.40" height="2.82"/><rect x="332.34" y="329.24" width="90.10" height="2.82"/><rect x="334.99" y="332.06" width="84.80" height="2.82"/><rect x="337.64" y="334.88" width="82.15" height="2.82"/><rect x="340.29" y="337.70" width="74.20" height="2.82"/><rect x="342.94" y="340.52" width="68.90" height="2.82"/><rect x="345.59" y="343.34" width="63.60" height="2.82"/><rect x="350.89" y="346.16" width="53.00" height="2.82"/><rect x="356.19" y="348.98" width="42.40" height="2.82"/><rect x="364.14" y="351.80" width="26.50" height="2.82"/></g><g fill="#fbfdfa"><rect x="425.09" y="303.86" width="2.65" height="2.82"/><rect x="393.29" y="332.06" width="2.65" height="2.82"/><rect x="334.99" y="320.78" width="2.65" height="2.82"/><rect x="419.79" y="289.76" width="2.65" height="2.82"/><rect x="382.69" y="315.14" width="2.65" height="2.82"/><rect x="393.29" y="264.38" width="2.65" height="2.82"/><rect x="387.99" y="250.28" width="2.65" height="2.82"/><rect x="409.19" y="289.76" width="2.65" height="2.82"/><rect x="390.64" y="343.34" width="2.65" height="2.82"/><rect x="414.49" y="303.86" width="2.65" height="2.82"/><rect x="422.44" y="275.66" width="2.65" height="2.82"/><rect x="403.89" y="312.32" width="2.65" height="2.82"/><rect x="403.89" y="303.86" width="2.65" height="2.82"/><rect x="372.09" y="301.04" width="2.65" height="2.82"/><rect x="406.54" y="267.20" width="2.65" height="2.82"/><rect x="353.54" y="292.58" width="2.65" height="2.82"/><rect x="369.44" y="348.98" width="2.65" height="2.82"/><rect x="324.39" y="289.76" width="2.65" height="2.82"/><rect x="364.14" y="275.66" width="2.65" height="2.82"/><rect x="398.59" y="264.38" width="2.65" height="2.82"/><rect x="353.54" y="286.94" width="2.65" height="2.82"/><rect x="327.04" y="317.96" width="2.65" height="2.82"/><rect x="393.29" y="255.92" width="2.65" height="2.82"/><rect x="427.74" y="281.30" width="2.65" height="2.82"/><rect x="332.34" y="317.96" width="2.65" height="2.82"/><rect x="374.74" y="301.04" width="2.65" height="2.82"/><rect x="414.49" y="267.20" width="2.65" height="2.82"/><rect x="406.54" y="289.76" width="2.65" height="2.82"/><rect x="414.49" y="270.02" width="2.65" height="2.82"/><rect x="409.19" y="289.76" width="2.65" height="2.82"/><rect x="340.29" y="275.66" width="2.65" height="2.82"/><rect x="337.64" y="267.20" width="2.65" height="2.82"/><rect x="390.64" y="343.34" width="2.65" height="2.82"/><rect x="406.54" y="334.88" width="2.65" height="2.82"/><rect x="377.39" y="286.94" width="2.65" height="2.82"/><rect x="327.04" y="278.48" width="2.65" height="2.82"/><rect x="345.59" y="309.50" width="2.65" height="2.82"/><rect x="393.29" y="295.40" width="2.65" height="2.82"/><rect x="329.69" y="272.84" width="2.65" height="2.82"/><rect x="332.34" y="292.58" width="2.65" height="2.82"/><rect x="358.84" y="317.96" width="2.65" height="2.82"/><rect x="414.49" y="326.42" width="2.65" height="2.82"/><rect x="377.39" y="337.70" width="2.65" height="2.82"/><rect x="364.14" y="346.16" width="2.65" height="2.82"/><rect x="417.14" y="329.24" width="2.65" height="2.82"/><rect x="417.14" y="317.96" width="2.65" height="2.82"/><rect x="356.19" y="298.22" width="2.65" height="2.82"/><rect x="422.44" y="301.04" width="2.65" height="2.82"/><rect x="380.04" y="258.74" width="2.65" height="2.82"/><rect x="380.04" y="326.42" width="2.65" height="2.82"/><rect x="329.69" y="317.96" width="2.65" height="2.82"/><rect x="411.84" y="267.20" width="2.65" height="2.82"/><rect x="332.34" y="289.76" width="2.65" height="2.82"/><rect x="427.74" y="295.40" width="2.65" height="2.82"/><rect x="372.09" y="320.78" width="2.65" height="2.82"/><rect x="332.34" y="326.42" width="2.65" height="2.82"/><rect x="348.24" y="264.38" width="2.65" height="2.82"/><rect x="380.04" y="272.84" width="2.65" height="2.82"/><rect x="345.59" y="267.20" width="2.65" height="2.82"/><rect x="356.19" y="295.40" width="2.65" height="2.82"/><rect x="364.14" y="323.60" width="2.65" height="2.82"/><rect x="356.19" y="255.92" width="2.65" height="2.82"/><rect x="380.04" y="337.70" width="2.65" height="2.82"/><rect x="398.59" y="334.88" width="2.65" height="2.82"/><rect x="366.79" y="278.48" width="2.65" height="2.82"/><rect x="385.34" y="281.30" width="2.65" height="2.82"/><rect x="327.04" y="312.32" width="2.65" height="2.82"/><rect x="401.24" y="286.94" width="2.65" height="2.82"/><rect x="345.59" y="332.06" width="2.65" height="2.82"/><rect x="395.94" y="334.88" width="2.65" height="2.82"/><rect x="425.09" y="275.66" width="2.65" height="2.82"/><rect x="358.84" y="326.42" width="2.65" height="2.82"/><rect x="395.94" y="317.96" width="2.65" height="2.82"/><rect x="380.04" y="281.30" width="2.65" height="2.82"/><rect x="345.59" y="258.74" width="2.65" height="2.82"/><rect x="361.49" y="323.60" width="2.65" height="2.82"/><rect x="374.74" y="267.20" width="2.65" height="2.82"/><rect x="342.94" y="261.56" width="2.65" height="2.82"/><rect x="406.54" y="261.56" width="2.65" height="2.82"/><rect x="425.09" y="281.30" width="2.65" height="2.82"/><rect x="417.14" y="284.12" width="2.65" height="2.82"/><rect x="361.49" y="337.70" width="2.65" height="2.82"/><rect x="358.84" y="278.48" width="2.65" height="2.82"/><rect x="401.24" y="289.76" width="2.65" height="2.82"/><rect x="377.39" y="309.50" width="2.65" height="2.82"/></g><path d="M316.44 241.0V357.6M319.09 241.0V357.6M321.74 241.0V357.6M324.39 241.0V357.6M327.04 241.0V357.6M329.69 241.0V357.6M332.34 241.0V357.6M334.99 241.0V357.6M337.64 241.0V357.6M340.29 241.0V357.6M342.94 241.0V357.6M345.59 241.0V357.6M348.24 241.0V357.6M350.89 241.0V357.6M353.54 241.0V357.6M356.19 241.0V357.6M358.84 241.0V357.6M361.49 241.0V357.6M364.14 241.0V357.6M366.79 241.0V357.6M369.44 241.0V357.6M372.09 241.0V357.6M374.74 241.0V357.6M377.39 241.0V357.6M380.04 241.0V357.6M382.69 241.0V357.6M385.34 241.0V357.6M387.99 241.0V357.6M390.64 241.0V357.6M393.29 241.0V357.6M395.94 241.0V357.6M398.59 241.0V357.6M401.24 241.0V357.6M403.89 241.0V357.6M406.54 241.0V357.6M409.19 241.0V357.6M411.84 241.0V357.6M414.49 241.0V357.6M417.14 241.0V357.6M419.79 241.0V357.6M422.44 241.0V357.6M425.09 241.0V357.6M427.74 241.0V357.6M430.39 241.0V357.6M433.04 241.0V357.6M435.69 241.0V357.6M438.34 241.0V357.6M319.3 236.18H435.9M319.3 239.00H435.9M319.3 241.82H435.9M319.3 244.64H435.9M319.3 247.46H435.9M319.3 250.28H435.9M319.3 253.10H435.9M319.3 255.92H435.9M319.3 258.74H435.9M319.3 261.56H435.9M319.3 264.38H435.9M319.3 267.20H435.9M319.3 270.02H435.9M319.3 272.84H435.9M319.3 275.66H435.9M319.3 278.48H435.9M319.3 281.30H435.9M319.3 284.12H435.9M319.3 286.94H435.9M319.3 289.76H435.9M319.3 292.58H435.9M319.3 295.40H435.9M319.3 298.22H435.9M319.3 301.04H435.9M319.3 303.86H435.9M319.3 306.68H435.9M319.3 309.50H435.9M319.3 312.32H435.9M319.3 315.14H435.9M319.3 317.96H435.9M319.3 320.78H435.9M319.3 323.60H435.9M319.3 326.42H435.9M319.3 329.24H435.9M319.3 332.06H435.9M319.3 334.88H435.9M319.3 337.70H435.9M319.3 340.52H435.9M319.3 343.34H435.9M319.3 346.16H435.9M319.3 348.98H435.9M319.3 351.80H435.9M319.3 354.62H435.9M319.3 357.44H435.9M319.3 360.26H435.9" stroke="#e9f0e7" stroke-width="0.25" fill="none"/><g fill="#e8008f"><rect x="387.99" y="244.64" width="2.70" height="2.87"/><rect x="385.34" y="264.38" width="2.70" height="2.87"/><rect x="393.29" y="275.66" width="2.70" height="2.87"/><rect x="406.54" y="275.66" width="2.70" height="2.87"/><rect x="406.54" y="278.48" width="2.70" height="2.87"/><rect x="390.64" y="289.76" width="2.70" height="2.87"/><rect x="427.74" y="289.76" width="2.70" height="2.87"/><rect x="356.19" y="303.86" width="2.70" height="2.87"/><rect x="324.39" y="306.68" width="2.70" height="2.87"/><rect x="334.99" y="312.32" width="2.70" height="2.87"/><rect x="387.99" y="323.60" width="2.70" height="2.87"/><rect x="358.84" y="329.24" width="2.70" height="2.87"/><rect x="377.39" y="329.24" width="2.70" height="2.87"/><rect x="395.94" y="343.34" width="2.70" height="2.87"/><rect x="380.04" y="351.80" width="2.70" height="2.87"/></g><g fill="#d98ae8"><rect x="353.54" y="250.28" width="2.70" height="2.87"/><rect x="361.49" y="250.28" width="2.70" height="2.87"/><rect x="364.14" y="250.28" width="2.70" height="2.87"/><rect x="366.79" y="250.28" width="2.70" height="2.87"/><rect x="372.09" y="250.28" width="2.70" height="2.87"/><rect x="377.39" y="250.28" width="2.70" height="2.87"/><rect x="356.19" y="261.56" width="2.70" height="2.87"/><rect x="387.99" y="261.56" width="2.70" height="2.87"/><rect x="332.34" y="270.02" width="2.70" height="2.87"/><rect x="340.29" y="270.02" width="2.70" height="2.87"/><rect x="337.64" y="272.84" width="2.70" height="2.87"/><rect x="414.49" y="278.48" width="2.70" height="2.87"/><rect x="387.99" y="284.12" width="2.70" height="2.87"/><rect x="401.24" y="286.94" width="2.70" height="2.87"/><rect x="403.89" y="286.94" width="2.70" height="2.87"/><rect x="406.54" y="286.94" width="2.70" height="2.87"/><rect x="409.19" y="286.94" width="2.70" height="2.87"/><rect x="411.84" y="286.94" width="2.70" height="2.87"/><rect x="353.54" y="286.94" width="2.70" height="2.87"/><rect x="353.54" y="292.58" width="2.70" height="2.87"/><rect x="393.29" y="292.58" width="2.70" height="2.87"/><rect x="393.29" y="295.40" width="2.70" height="2.87"/><rect x="393.29" y="298.22" width="2.70" height="2.87"/><rect x="395.94" y="292.58" width="2.70" height="2.87"/><rect x="395.94" y="295.40" width="2.70" height="2.87"/><rect x="332.34" y="298.22" width="2.70" height="2.87"/><rect x="334.99" y="298.22" width="2.70" height="2.87"/><rect x="337.64" y="298.22" width="2.70" height="2.87"/><rect x="358.84" y="298.22" width="2.70" height="2.87"/><rect x="361.49" y="298.22" width="2.70" height="2.87"/><rect x="364.14" y="298.22" width="2.70" height="2.87"/><rect x="366.79" y="298.22" width="2.70" height="2.87"/><rect x="369.44" y="298.22" width="2.70" height="2.87"/><rect x="372.09" y="298.22" width="2.70" height="2.87"/><rect x="380.04" y="298.22" width="2.70" height="2.87"/><rect x="430.39" y="298.22" width="2.70" height="2.87"/><rect x="356.19" y="301.04" width="2.70" height="2.87"/><rect x="358.84" y="301.04" width="2.70" height="2.87"/><rect x="382.69" y="301.04" width="2.70" height="2.87"/><rect x="387.99" y="301.04" width="2.70" height="2.87"/><rect x="390.64" y="301.04" width="2.70" height="2.87"/><rect x="393.29" y="301.04" width="2.70" height="2.87"/><rect x="395.94" y="301.04" width="2.70" height="2.87"/><rect x="398.59" y="301.04" width="2.70" height="2.87"/><rect x="401.24" y="301.04" width="2.70" height="2.87"/><rect x="403.89" y="301.04" width="2.70" height="2.87"/><rect x="406.54" y="301.04" width="2.70" height="2.87"/><rect x="409.19" y="301.04" width="2.70" height="2.87"/><rect x="411.84" y="301.04" width="2.70" height="2.87"/><rect x="414.49" y="301.04" width="2.70" height="2.87"/><rect x="417.14" y="301.04" width="2.70" height="2.87"/><rect x="340.29" y="306.68" width="2.70" height="2.87"/><rect x="342.94" y="306.68" width="2.70" height="2.87"/><rect x="348.24" y="306.68" width="2.70" height="2.87"/><rect x="350.89" y="306.68" width="2.70" height="2.87"/><rect x="353.54" y="306.68" width="2.70" height="2.87"/><rect x="334.99" y="303.86" width="2.70" height="2.87"/><rect x="425.09" y="303.86" width="2.70" height="2.87"/><rect x="427.74" y="303.86" width="2.70" height="2.87"/><rect x="401.24" y="306.68" width="2.70" height="2.87"/><rect x="403.89" y="306.68" width="2.70" height="2.87"/><rect x="353.54" y="312.32" width="2.70" height="2.87"/><rect x="356.19" y="312.32" width="2.70" height="2.87"/><rect x="374.74" y="317.96" width="2.70" height="2.87"/><rect x="377.39" y="317.96" width="2.70" height="2.87"/><rect x="382.69" y="348.98" width="2.70" height="2.87"/></g><g fill="#b6e06a"><rect x="356.19" y="255.92" width="2.70" height="2.87"/><rect x="348.24" y="343.34" width="2.70" height="2.87"/><rect x="377.39" y="348.98" width="2.70" height="2.87"/></g><g fill="#7a3030"><rect x="393.29" y="261.56" width="2.70" height="2.87"/><rect x="422.44" y="320.78" width="2.70" height="2.87"/></g><g fill="#3535e0"><rect x="377.39" y="267.20" width="2.70" height="2.87"/></g><g fill="#f2d000"><rect x="332.34" y="278.48" width="2.70" height="2.87"/></g><g fill="#2fd9d0"><rect x="419.79" y="281.30" width="2.70" height="2.87"/><rect x="425.09" y="306.68" width="2.70" height="2.87"/></g><g fill="#3c7a48"><rect x="427.74" y="298.22" width="2.70" height="2.87"/><rect x="372.09" y="348.98" width="2.70" height="2.87"/></g></g><circle cx="377.60" cy="299.30" r="58.30" fill="none" stroke="#7a7a7a" stroke-width="1"/><rect x="373.70" y="356.70" width="7.8" height="2.6" rx="0.6" fill="#8c8c8c"/><path d="M375.70 358.90 L377.60 356.40 L379.50 358.90 Z" fill="#fff"/><clipPath id="wc3"><circle cx="517.90" cy="299.30" r="58.00"/></clipPath><circle cx="517.90" cy="299.30" r="58.30" fill="#d8d8d8"/><g clip-path="url(#wc3)"><g fill="#f2f8f1"><rect x="501.74" y="244.66" width="31.80" height="2.82"/><rect x="496.44" y="247.48" width="45.05" height="2.82"/><rect x="491.14" y="250.30" width="55.65" height="2.82"/><rect x="485.84" y="253.12" width="63.60" height="2.82"/><rect x="483.19" y="255.94" width="71.55" height="2.82"/><rect x="477.89" y="258.75" width="79.50" height="2.82"/><rect x="475.24" y="261.57" width="84.80" height="2.82"/><rect x="475.24" y="264.40" width="87.45" height="2.82"/><rect x="472.59" y="267.22" width="90.10" height="2.82"/><rect x="469.94" y="270.04" width="95.40" height="2.82"/><rect x="469.94" y="272.86" width="98.05" height="2.82"/><rect x="467.29" y="275.68" width="100.70" height="2.82"/><rect x="467.29" y="278.50" width="103.35" height="2.82"/><rect x="464.64" y="281.31" width="106.00" height="2.82"/><rect x="464.64" y="284.13" width="106.00" height="2.82"/><rect x="464.64" y="286.96" width="108.65" height="2.82"/><rect x="461.99" y="289.78" width="111.30" height="2.82"/><rect x="461.99" y="292.60" width="111.30" height="2.82"/><rect x="461.99" y="295.42" width="111.30" height="2.82"/><rect x="461.99" y="298.24" width="111.30" height="2.82"/><rect x="461.99" y="301.06" width="111.30" height="2.82"/><rect x="461.99" y="303.88" width="111.30" height="2.82"/><rect x="461.99" y="306.69" width="111.30" height="2.82"/><rect x="464.64" y="309.51" width="108.65" height="2.82"/><rect x="464.64" y="312.34" width="106.00" height="2.82"/><rect x="464.64" y="315.16" width="106.00" height="2.82"/><rect x="467.29" y="317.98" width="103.35" height="2.82"/><rect x="467.29" y="320.80" width="100.70" height="2.82"/><rect x="469.94" y="323.62" width="98.05" height="2.82"/><rect x="469.94" y="326.44" width="95.40" height="2.82"/><rect x="472.59" y="329.25" width="90.10" height="2.82"/><rect x="475.24" y="332.07" width="84.80" height="2.82"/><rect x="477.89" y="334.90" width="82.15" height="2.82"/><rect x="480.54" y="337.72" width="76.85" height="2.82"/><rect x="483.19" y="340.54" width="68.90" height="2.82"/><rect x="485.84" y="343.36" width="63.60" height="2.82"/><rect x="491.14" y="346.18" width="53.00" height="2.82"/><rect x="496.44" y="349.00" width="42.40" height="2.82"/><rect x="504.39" y="351.81" width="26.50" height="2.82"/></g><g fill="#fbfdfa"><rect x="480.54" y="317.98" width="2.65" height="2.82"/><rect x="552.09" y="292.60" width="2.65" height="2.82"/><rect x="538.84" y="326.44" width="2.65" height="2.82"/><rect x="522.94" y="278.50" width="2.65" height="2.82"/><rect x="533.54" y="298.24" width="2.65" height="2.82"/><rect x="554.74" y="306.69" width="2.65" height="2.82"/><rect x="493.79" y="272.86" width="2.65" height="2.82"/><rect x="552.09" y="317.98" width="2.65" height="2.82"/><rect x="549.44" y="298.24" width="2.65" height="2.82"/><rect x="546.79" y="289.78" width="2.65" height="2.82"/><rect x="528.24" y="286.96" width="2.65" height="2.82"/><rect x="549.44" y="264.40" width="2.65" height="2.82"/><rect x="501.74" y="286.96" width="2.65" height="2.82"/><rect x="533.54" y="343.36" width="2.65" height="2.82"/><rect x="464.64" y="306.69" width="2.65" height="2.82"/><rect x="520.29" y="286.96" width="2.65" height="2.82"/><rect x="480.54" y="306.69" width="2.65" height="2.82"/><rect x="533.54" y="306.69" width="2.65" height="2.82"/><rect x="557.39" y="270.04" width="2.65" height="2.82"/><rect x="533.54" y="281.31" width="2.65" height="2.82"/><rect x="552.09" y="281.31" width="2.65" height="2.82"/><rect x="514.99" y="309.51" width="2.65" height="2.82"/><rect x="528.24" y="315.16" width="2.65" height="2.82"/><rect x="522.94" y="303.88" width="2.65" height="2.82"/><rect x="538.84" y="320.80" width="2.65" height="2.82"/><rect x="507.04" y="275.68" width="2.65" height="2.82"/><rect x="517.64" y="323.62" width="2.65" height="2.82"/><rect x="507.04" y="253.12" width="2.65" height="2.82"/><rect x="544.14" y="317.98" width="2.65" height="2.82"/><rect x="496.44" y="329.25" width="2.65" height="2.82"/><rect x="536.19" y="267.22" width="2.65" height="2.82"/><rect x="541.49" y="343.36" width="2.65" height="2.82"/><rect x="517.64" y="329.25" width="2.65" height="2.82"/><rect x="509.69" y="295.42" width="2.65" height="2.82"/><rect x="512.34" y="306.69" width="2.65" height="2.82"/><rect x="525.59" y="312.34" width="2.65" height="2.82"/><rect x="525.59" y="261.57" width="2.65" height="2.82"/><rect x="530.89" y="303.88" width="2.65" height="2.82"/><rect x="512.34" y="326.44" width="2.65" height="2.82"/><rect x="530.89" y="340.54" width="2.65" height="2.82"/><rect x="475.24" y="264.40" width="2.65" height="2.82"/><rect x="549.44" y="337.72" width="2.65" height="2.82"/><rect x="514.99" y="320.80" width="2.65" height="2.82"/><rect x="501.74" y="346.18" width="2.65" height="2.82"/><rect x="528.24" y="298.24" width="2.65" height="2.82"/><rect x="504.39" y="261.57" width="2.65" height="2.82"/><rect x="544.14" y="337.72" width="2.65" height="2.82"/><rect x="507.04" y="289.78" width="2.65" height="2.82"/><rect x="475.24" y="320.80" width="2.65" height="2.82"/><rect x="475.24" y="272.86" width="2.65" height="2.82"/><rect x="483.19" y="270.04" width="2.65" height="2.82"/><rect x="552.09" y="286.96" width="2.65" height="2.82"/><rect x="480.54" y="272.86" width="2.65" height="2.82"/><rect x="514.99" y="295.42" width="2.65" height="2.82"/><rect x="512.34" y="275.68" width="2.65" height="2.82"/><rect x="488.49" y="315.16" width="2.65" height="2.82"/><rect x="501.74" y="343.36" width="2.65" height="2.82"/><rect x="488.49" y="292.60" width="2.65" height="2.82"/><rect x="536.19" y="323.62" width="2.65" height="2.82"/><rect x="514.99" y="317.98" width="2.65" height="2.82"/><rect x="514.99" y="250.30" width="2.65" height="2.82"/><rect x="544.14" y="306.69" width="2.65" height="2.82"/><rect x="541.49" y="267.22" width="2.65" height="2.82"/><rect x="493.79" y="258.75" width="2.65" height="2.82"/><rect x="528.24" y="317.98" width="2.65" height="2.82"/><rect x="557.39" y="281.31" width="2.65" height="2.82"/><rect x="509.69" y="303.88" width="2.65" height="2.82"/><rect x="528.24" y="264.40" width="2.65" height="2.82"/><rect x="530.89" y="332.07" width="2.65" height="2.82"/><rect x="472.59" y="267.22" width="2.65" height="2.82"/><rect x="552.09" y="278.50" width="2.65" height="2.82"/><rect x="522.94" y="303.88" width="2.65" height="2.82"/><rect x="477.89" y="267.22" width="2.65" height="2.82"/><rect x="504.39" y="258.75" width="2.65" height="2.82"/><rect x="504.39" y="337.72" width="2.65" height="2.82"/><rect x="464.64" y="295.42" width="2.65" height="2.82"/><rect x="496.44" y="250.30" width="2.65" height="2.82"/><rect x="554.74" y="275.68" width="2.65" height="2.82"/><rect x="560.04" y="284.13" width="2.65" height="2.82"/><rect x="514.99" y="326.44" width="2.65" height="2.82"/><rect x="525.59" y="337.72" width="2.65" height="2.82"/><rect x="544.14" y="270.04" width="2.65" height="2.82"/><rect x="514.99" y="317.98" width="2.65" height="2.82"/><rect x="520.29" y="270.04" width="2.65" height="2.82"/><rect x="530.89" y="315.16" width="2.65" height="2.82"/><rect x="493.79" y="343.36" width="2.65" height="2.82"/><rect x="504.39" y="255.94" width="2.65" height="2.82"/><rect x="525.59" y="244.66" width="2.65" height="2.82"/><rect x="538.84" y="315.16" width="2.65" height="2.82"/><rect x="509.69" y="264.40" width="2.65" height="2.82"/><rect x="491.14" y="301.06" width="2.65" height="2.82"/><rect x="544.14" y="306.69" width="2.65" height="2.82"/><rect x="507.04" y="301.06" width="2.65" height="2.82"/><rect x="475.24" y="292.60" width="2.65" height="2.82"/><rect x="520.29" y="346.18" width="2.65" height="2.82"/><rect x="504.39" y="303.88" width="2.65" height="2.82"/><rect x="512.34" y="306.69" width="2.65" height="2.82"/><rect x="509.69" y="295.42" width="2.65" height="2.82"/><rect x="501.74" y="303.88" width="2.65" height="2.82"/><rect x="546.79" y="267.22" width="2.65" height="2.82"/><rect x="525.59" y="267.22" width="2.65" height="2.82"/><rect x="504.39" y="298.24" width="2.65" height="2.82"/><rect x="554.74" y="261.57" width="2.65" height="2.82"/><rect x="475.24" y="309.51" width="2.65" height="2.82"/><rect x="475.24" y="292.60" width="2.65" height="2.82"/></g><path d="M456.69 241.0V357.6M459.34 241.0V357.6M461.99 241.0V357.6M464.64 241.0V357.6M467.29 241.0V357.6M469.94 241.0V357.6M472.59 241.0V357.6M475.24 241.0V357.6M477.89 241.0V357.6M480.54 241.0V357.6M483.19 241.0V357.6M485.84 241.0V357.6M488.49 241.0V357.6M491.14 241.0V357.6M493.79 241.0V357.6M496.44 241.0V357.6M499.09 241.0V357.6M501.74 241.0V357.6M504.39 241.0V357.6M507.04 241.0V357.6M509.69 241.0V357.6M512.34 241.0V357.6M514.99 241.0V357.6M517.64 241.0V357.6M520.29 241.0V357.6M522.94 241.0V357.6M525.59 241.0V357.6M528.24 241.0V357.6M530.89 241.0V357.6M533.54 241.0V357.6M536.19 241.0V357.6M538.84 241.0V357.6M541.49 241.0V357.6M544.14 241.0V357.6M546.79 241.0V357.6M549.44 241.0V357.6M552.09 241.0V357.6M554.74 241.0V357.6M557.39 241.0V357.6M560.04 241.0V357.6M562.69 241.0V357.6M565.34 241.0V357.6M567.99 241.0V357.6M570.64 241.0V357.6M573.29 241.0V357.6M575.94 241.0V357.6M578.59 241.0V357.6M459.6 236.20H576.2M459.6 239.02H576.2M459.6 241.84H576.2M459.6 244.66H576.2M459.6 247.48H576.2M459.6 250.30H576.2M459.6 253.12H576.2M459.6 255.94H576.2M459.6 258.75H576.2M459.6 261.57H576.2M459.6 264.40H576.2M459.6 267.22H576.2M459.6 270.04H576.2M459.6 272.86H576.2M459.6 275.68H576.2M459.6 278.50H576.2M459.6 281.31H576.2M459.6 284.13H576.2M459.6 286.96H576.2M459.6 289.78H576.2M459.6 292.60H576.2M459.6 295.42H576.2M459.6 298.24H576.2M459.6 301.06H576.2M459.6 303.88H576.2M459.6 306.69H576.2M459.6 309.51H576.2M459.6 312.34H576.2M459.6 315.16H576.2M459.6 317.98H576.2M459.6 320.80H576.2M459.6 323.62H576.2M459.6 326.44H576.2M459.6 329.25H576.2M459.6 332.07H576.2M459.6 334.90H576.2M459.6 337.72H576.2M459.6 340.54H576.2M459.6 343.36H576.2M459.6 346.18H576.2M459.6 349.00H576.2M459.6 351.81H576.2M459.6 354.63H576.2M459.6 357.45H576.2M459.6 360.28H576.2" stroke="#e9f0e7" stroke-width="0.25" fill="none"/><g fill="#d98ae8"><rect x="504.39" y="250.30" width="2.70" height="2.87"/><rect x="507.04" y="264.40" width="2.70" height="2.87"/><rect x="544.14" y="264.40" width="2.70" height="2.87"/><rect x="477.89" y="267.22" width="2.70" height="2.87"/><rect x="469.94" y="284.13" width="2.70" height="2.87"/><rect x="512.34" y="284.13" width="2.70" height="2.87"/><rect x="552.09" y="284.13" width="2.70" height="2.87"/><rect x="565.34" y="286.96" width="2.70" height="2.87"/><rect x="567.99" y="286.96" width="2.70" height="2.87"/><rect x="472.59" y="292.60" width="2.70" height="2.87"/><rect x="475.24" y="292.60" width="2.70" height="2.87"/><rect x="477.89" y="292.60" width="2.70" height="2.87"/><rect x="480.54" y="292.60" width="2.70" height="2.87"/><rect x="483.19" y="292.60" width="2.70" height="2.87"/><rect x="472.59" y="298.24" width="2.70" height="2.87"/><rect x="522.94" y="298.24" width="2.70" height="2.87"/><rect x="528.24" y="301.06" width="2.70" height="2.87"/><rect x="533.54" y="301.06" width="2.70" height="2.87"/><rect x="536.19" y="301.06" width="2.70" height="2.87"/><rect x="538.84" y="301.06" width="2.70" height="2.87"/><rect x="541.49" y="301.06" width="2.70" height="2.87"/><rect x="544.14" y="301.06" width="2.70" height="2.87"/><rect x="546.79" y="301.06" width="2.70" height="2.87"/><rect x="549.44" y="301.06" width="2.70" height="2.87"/><rect x="552.09" y="301.06" width="2.70" height="2.87"/><rect x="554.74" y="301.06" width="2.70" height="2.87"/><rect x="557.39" y="301.06" width="2.70" height="2.87"/><rect x="562.69" y="301.06" width="2.70" height="2.87"/><rect x="504.39" y="303.88" width="2.70" height="2.87"/><rect x="512.34" y="309.51" width="2.70" height="2.87"/><rect x="514.99" y="309.51" width="2.70" height="2.87"/><rect x="514.99" y="315.16" width="2.70" height="2.87"/><rect x="477.89" y="317.98" width="2.70" height="2.87"/><rect x="483.19" y="317.98" width="2.70" height="2.87"/><rect x="485.84" y="317.98" width="2.70" height="2.87"/><rect x="488.49" y="317.98" width="2.70" height="2.87"/><rect x="491.14" y="317.98" width="2.70" height="2.87"/><rect x="493.79" y="317.98" width="2.70" height="2.87"/><rect x="496.44" y="317.98" width="2.70" height="2.87"/><rect x="557.39" y="317.98" width="2.70" height="2.87"/><rect x="530.89" y="320.80" width="2.70" height="2.87"/><rect x="560.04" y="323.62" width="2.70" height="2.87"/><rect x="562.69" y="326.44" width="2.70" height="2.87"/><rect x="565.34" y="323.62" width="2.70" height="2.87"/><rect x="565.34" y="320.80" width="2.70" height="2.87"/><rect x="552.09" y="329.25" width="2.70" height="2.87"/><rect x="554.74" y="329.25" width="2.70" height="2.87"/><rect x="560.04" y="329.25" width="2.70" height="2.87"/><rect x="512.34" y="329.25" width="2.70" height="2.87"/><rect x="488.49" y="332.07" width="2.70" height="2.87"/><rect x="491.14" y="332.07" width="2.70" height="2.87"/><rect x="496.44" y="332.07" width="2.70" height="2.87"/><rect x="499.09" y="332.07" width="2.70" height="2.87"/><rect x="501.74" y="332.07" width="2.70" height="2.87"/><rect x="504.39" y="332.07" width="2.70" height="2.87"/><rect x="507.04" y="332.07" width="2.70" height="2.87"/><rect x="509.69" y="332.07" width="2.70" height="2.87"/><rect x="514.99" y="332.07" width="2.70" height="2.87"/><rect x="517.64" y="332.07" width="2.70" height="2.87"/><rect x="520.29" y="332.07" width="2.70" height="2.87"/><rect x="522.94" y="332.07" width="2.70" height="2.87"/><rect x="491.14" y="334.90" width="2.70" height="2.87"/><rect x="493.79" y="334.90" width="2.70" height="2.87"/><rect x="496.44" y="334.90" width="2.70" height="2.87"/><rect x="496.44" y="337.72" width="2.70" height="2.87"/><rect x="528.24" y="334.90" width="2.70" height="2.87"/><rect x="530.89" y="334.90" width="2.70" height="2.87"/><rect x="533.54" y="337.72" width="2.70" height="2.87"/><rect x="501.74" y="340.54" width="2.70" height="2.87"/><rect x="504.39" y="340.54" width="2.70" height="2.87"/><rect x="507.04" y="340.54" width="2.70" height="2.87"/><rect x="520.29" y="343.36" width="2.70" height="2.87"/><rect x="538.84" y="346.18" width="2.70" height="2.87"/><rect x="541.49" y="346.18" width="2.70" height="2.87"/><rect x="544.14" y="346.18" width="2.70" height="2.87"/><rect x="496.44" y="346.18" width="2.70" height="2.87"/><rect x="501.74" y="346.18" width="2.70" height="2.87"/><rect x="504.39" y="346.18" width="2.70" height="2.87"/><rect x="499.09" y="349.00" width="2.70" height="2.87"/><rect x="501.74" y="349.00" width="2.70" height="2.87"/><rect x="504.39" y="349.00" width="2.70" height="2.87"/><rect x="507.04" y="349.00" width="2.70" height="2.87"/><rect x="509.69" y="349.00" width="2.70" height="2.87"/><rect x="512.34" y="349.00" width="2.70" height="2.87"/><rect x="514.99" y="349.00" width="2.70" height="2.87"/><rect x="501.74" y="351.81" width="2.70" height="2.87"/><rect x="504.39" y="351.81" width="2.70" height="2.87"/><rect x="509.69" y="351.81" width="2.70" height="2.87"/><rect x="512.34" y="351.81" width="2.70" height="2.87"/><rect x="514.99" y="351.81" width="2.70" height="2.87"/><rect x="517.64" y="351.81" width="2.70" height="2.87"/><rect x="520.29" y="351.81" width="2.70" height="2.87"/><rect x="522.94" y="351.81" width="2.70" height="2.87"/><rect x="525.59" y="351.81" width="2.70" height="2.87"/></g><g fill="#e8008f"><rect x="528.24" y="253.12" width="2.70" height="2.87"/><rect x="522.94" y="258.75" width="2.70" height="2.87"/><rect x="530.89" y="270.04" width="2.70" height="2.87"/><rect x="541.49" y="278.50" width="2.70" height="2.87"/><rect x="488.49" y="286.96" width="2.70" height="2.87"/><rect x="504.39" y="284.13" width="2.70" height="2.87"/><rect x="507.04" y="284.13" width="2.70" height="2.87"/><rect x="528.24" y="292.60" width="2.70" height="2.87"/><rect x="525.59" y="301.06" width="2.70" height="2.87"/><rect x="501.74" y="312.34" width="2.70" height="2.87"/><rect x="565.34" y="312.34" width="2.70" height="2.87"/><rect x="525.59" y="334.90" width="2.70" height="2.87"/><rect x="501.74" y="337.72" width="2.70" height="2.87"/></g><g fill="#2a9be0"><rect x="552.09" y="258.75" width="2.70" height="2.87"/><rect x="467.29" y="272.86" width="2.70" height="2.87"/></g><g fill="#d98a1a"><rect x="557.39" y="264.40" width="2.70" height="2.87"/><rect x="469.94" y="286.96" width="2.70" height="2.87"/><rect x="517.64" y="349.00" width="2.70" height="2.87"/><rect x="507.04" y="351.81" width="2.70" height="2.87"/><rect x="530.89" y="351.81" width="2.70" height="2.87"/></g><g fill="#b6e06a"><rect x="475.24" y="275.68" width="2.70" height="2.87"/></g><g fill="#7a3030"><rect x="567.99" y="284.13" width="2.70" height="2.87"/></g><g fill="#3535e0"><rect x="570.64" y="303.88" width="2.70" height="2.87"/><rect x="493.79" y="332.07" width="2.70" height="2.87"/></g><g fill="#d7a3cf"><rect x="567.99" y="317.98" width="2.70" height="2.87"/><rect x="496.44" y="349.00" width="2.70" height="2.87"/></g></g><circle cx="517.90" cy="299.30" r="58.30" fill="none" stroke="#7a7a7a" stroke-width="1"/><rect x="514.00" y="356.70" width="7.8" height="2.6" rx="0.6" fill="#8c8c8c"/><path d="M516.00 358.90 L517.90 356.40 L519.80 358.90 Z" fill="#fff"/><clipPath id="wc4"><circle cx="658.20" cy="299.30" r="58.00"/></clipPath><circle cx="658.20" cy="299.30" r="58.30" fill="#d8d8d8"/><g clip-path="url(#wc4)"><g fill="#f2f8f1"><rect x="642.24" y="244.63" width="31.80" height="2.82"/><rect x="634.29" y="247.45" width="47.70" height="2.82"/><rect x="628.99" y="250.27" width="58.30" height="2.82"/><rect x="626.34" y="253.09" width="63.60" height="2.82"/><rect x="623.69" y="255.91" width="71.55" height="2.82"/><rect x="618.39" y="258.73" width="79.50" height="2.82"/><rect x="615.74" y="261.55" width="84.80" height="2.82"/><rect x="613.09" y="264.37" width="90.10" height="2.82"/><rect x="613.09" y="267.19" width="90.10" height="2.82"/><rect x="610.44" y="270.01" width="95.40" height="2.82"/><rect x="607.79" y="272.83" width="100.70" height="2.82"/><rect x="607.79" y="275.65" width="100.70" height="2.82"/><rect x="605.14" y="278.47" width="106.00" height="2.82"/><rect x="605.14" y="281.29" width="106.00" height="2.82"/><rect x="605.14" y="284.11" width="106.00" height="2.82"/><rect x="602.49" y="286.93" width="111.30" height="2.82"/><rect x="602.49" y="289.75" width="111.30" height="2.82"/><rect x="602.49" y="292.57" width="111.30" height="2.82"/><rect x="602.49" y="295.39" width="111.30" height="2.82"/><rect x="602.49" y="298.21" width="111.30" height="2.82"/><rect x="602.49" y="301.03" width="111.30" height="2.82"/><rect x="602.49" y="303.85" width="111.30" height="2.82"/><rect x="602.49" y="306.67" width="111.30" height="2.82"/><rect x="605.14" y="309.49" width="108.65" height="2.82"/><rect x="605.14" y="312.31" width="106.00" height="2.82"/><rect x="605.14" y="315.13" width="106.00" height="2.82"/><rect x="607.79" y="317.95" width="100.70" height="2.82"/><rect x="607.79" y="320.77" width="100.70" height="2.82"/><rect x="610.44" y="323.59" width="95.40" height="2.82"/><rect x="610.44" y="326.41" width="95.40" height="2.82"/><rect x="613.09" y="329.23" width="90.10" height="2.82"/><rect x="615.74" y="332.05" width="84.80" height="2.82"/><rect x="618.39" y="334.87" width="79.50" height="2.82"/><rect x="621.04" y="337.69" width="74.20" height="2.82"/><rect x="623.69" y="340.51" width="68.90" height="2.82"/><rect x="626.34" y="343.33" width="63.60" height="2.82"/><rect x="631.64" y="346.15" width="53.00" height="2.82"/><rect x="636.94" y="348.97" width="42.40" height="2.82"/><rect x="644.89" y="351.79" width="26.50" height="2.82"/></g><g fill="#fbfdfa"><rect x="652.84" y="329.23" width="2.65" height="2.82"/><rect x="642.24" y="264.37" width="2.65" height="2.82"/><rect x="631.64" y="284.11" width="2.65" height="2.82"/><rect x="613.09" y="272.83" width="2.65" height="2.82"/><rect x="700.54" y="272.83" width="2.65" height="2.82"/><rect x="660.79" y="320.77" width="2.65" height="2.82"/><rect x="621.04" y="301.03" width="2.65" height="2.82"/><rect x="605.14" y="301.03" width="2.65" height="2.82"/><rect x="697.89" y="272.83" width="2.65" height="2.82"/><rect x="623.69" y="295.39" width="2.65" height="2.82"/><rect x="671.39" y="317.95" width="2.65" height="2.82"/><rect x="623.69" y="281.29" width="2.65" height="2.82"/><rect x="684.64" y="301.03" width="2.65" height="2.82"/><rect x="650.19" y="343.33" width="2.65" height="2.82"/><rect x="658.14" y="275.65" width="2.65" height="2.82"/><rect x="639.59" y="255.91" width="2.65" height="2.82"/><rect x="647.54" y="261.55" width="2.65" height="2.82"/><rect x="668.74" y="323.59" width="2.65" height="2.82"/><rect x="681.99" y="340.51" width="2.65" height="2.82"/><rect x="700.54" y="301.03" width="2.65" height="2.82"/><rect x="647.54" y="255.91" width="2.65" height="2.82"/><rect x="634.29" y="292.57" width="2.65" height="2.82"/><rect x="703.19" y="275.65" width="2.65" height="2.82"/><rect x="626.34" y="340.51" width="2.65" height="2.82"/><rect x="674.04" y="323.59" width="2.65" height="2.82"/><rect x="689.94" y="295.39" width="2.65" height="2.82"/><rect x="642.24" y="255.91" width="2.65" height="2.82"/><rect x="703.19" y="284.11" width="2.65" height="2.82"/><rect x="636.94" y="323.59" width="2.65" height="2.82"/><rect x="652.84" y="329.23" width="2.65" height="2.82"/><rect x="684.64" y="292.57" width="2.65" height="2.82"/><rect x="639.59" y="286.93" width="2.65" height="2.82"/><rect x="681.99" y="334.87" width="2.65" height="2.82"/><rect x="676.69" y="281.29" width="2.65" height="2.82"/><rect x="613.09" y="275.65" width="2.65" height="2.82"/><rect x="705.84" y="317.95" width="2.65" height="2.82"/><rect x="644.89" y="320.77" width="2.65" height="2.82"/><rect x="671.39" y="284.11" width="2.65" height="2.82"/><rect x="650.19" y="306.67" width="2.65" height="2.82"/><rect x="689.94" y="295.39" width="2.65" height="2.82"/><rect x="692.59" y="326.41" width="2.65" height="2.82"/><rect x="634.29" y="320.77" width="2.65" height="2.82"/><rect x="695.24" y="329.23" width="2.65" height="2.82"/><rect x="607.79" y="315.13" width="2.65" height="2.82"/><rect x="671.39" y="250.27" width="2.65" height="2.82"/><rect x="652.84" y="281.29" width="2.65" height="2.82"/><rect x="655.49" y="346.15" width="2.65" height="2.82"/><rect x="674.04" y="340.51" width="2.65" height="2.82"/><rect x="692.59" y="301.03" width="2.65" height="2.82"/><rect x="697.89" y="323.59" width="2.65" height="2.82"/><rect x="607.79" y="289.75" width="2.65" height="2.82"/><rect x="663.44" y="255.91" width="2.65" height="2.82"/><rect x="695.24" y="334.87" width="2.65" height="2.82"/><rect x="705.84" y="289.75" width="2.65" height="2.82"/><rect x="650.19" y="337.69" width="2.65" height="2.82"/><rect x="687.29" y="292.57" width="2.65" height="2.82"/><rect x="644.89" y="306.67" width="2.65" height="2.82"/><rect x="652.84" y="312.31" width="2.65" height="2.82"/><rect x="660.79" y="340.51" width="2.65" height="2.82"/><rect x="674.04" y="346.15" width="2.65" height="2.82"/><rect x="679.34" y="250.27" width="2.65" height="2.82"/><rect x="642.24" y="326.41" width="2.65" height="2.82"/><rect x="626.34" y="323.59" width="2.65" height="2.82"/><rect x="671.39" y="309.49" width="2.65" height="2.82"/><rect x="628.99" y="317.95" width="2.65" height="2.82"/><rect x="674.04" y="261.55" width="2.65" height="2.82"/><rect x="674.04" y="281.29" width="2.65" height="2.82"/><rect x="626.34" y="272.83" width="2.65" height="2.82"/><rect x="660.79" y="264.37" width="2.65" height="2.82"/><rect x="621.04" y="264.37" width="2.65" height="2.82"/><rect x="679.34" y="329.23" width="2.65" height="2.82"/><rect x="607.79" y="303.85" width="2.65" height="2.82"/><rect x="666.09" y="255.91" width="2.65" height="2.82"/><rect x="705.84" y="286.93" width="2.65" height="2.82"/><rect x="708.49" y="284.11" width="2.65" height="2.82"/><rect x="692.59" y="295.39" width="2.65" height="2.82"/><rect x="660.79" y="286.93" width="2.65" height="2.82"/><rect x="689.94" y="317.95" width="2.65" height="2.82"/><rect x="647.54" y="250.27" width="2.65" height="2.82"/><rect x="607.79" y="289.75" width="2.65" height="2.82"/><rect x="663.44" y="340.51" width="2.65" height="2.82"/><rect x="647.54" y="346.15" width="2.65" height="2.82"/><rect x="642.24" y="278.47" width="2.65" height="2.82"/><rect x="655.49" y="289.75" width="2.65" height="2.82"/><rect x="671.39" y="295.39" width="2.65" height="2.82"/><rect x="650.19" y="275.65" width="2.65" height="2.82"/><rect x="655.49" y="346.15" width="2.65" height="2.82"/><rect x="610.44" y="284.11" width="2.65" height="2.82"/><rect x="639.59" y="332.05" width="2.65" height="2.82"/><rect x="676.69" y="275.65" width="2.65" height="2.82"/><rect x="692.59" y="295.39" width="2.65" height="2.82"/><rect x="647.54" y="317.95" width="2.65" height="2.82"/></g><path d="M597.19 241.0V357.6M599.84 241.0V357.6M602.49 241.0V357.6M605.14 241.0V357.6M607.79 241.0V357.6M610.44 241.0V357.6M613.09 241.0V357.6M615.74 241.0V357.6M618.39 241.0V357.6M621.04 241.0V357.6M623.69 241.0V357.6M626.34 241.0V357.6M628.99 241.0V357.6M631.64 241.0V357.6M634.29 241.0V357.6M636.94 241.0V357.6M639.59 241.0V357.6M642.24 241.0V357.6M644.89 241.0V357.6M647.54 241.0V357.6M650.19 241.0V357.6M652.84 241.0V357.6M655.49 241.0V357.6M658.14 241.0V357.6M660.79 241.0V357.6M663.44 241.0V357.6M666.09 241.0V357.6M668.74 241.0V357.6M671.39 241.0V357.6M674.04 241.0V357.6M676.69 241.0V357.6M679.34 241.0V357.6M681.99 241.0V357.6M684.64 241.0V357.6M687.29 241.0V357.6M689.94 241.0V357.6M692.59 241.0V357.6M695.24 241.0V357.6M697.89 241.0V357.6M700.54 241.0V357.6M703.19 241.0V357.6M705.84 241.0V357.6M708.49 241.0V357.6M711.14 241.0V357.6M713.79 241.0V357.6M716.44 241.0V357.6M719.09 241.0V357.6M599.9 236.17H716.5M599.9 238.99H716.5M599.9 241.81H716.5M599.9 244.63H716.5M599.9 247.45H716.5M599.9 250.27H716.5M599.9 253.09H716.5M599.9 255.91H716.5M599.9 258.73H716.5M599.9 261.55H716.5M599.9 264.37H716.5M599.9 267.19H716.5M599.9 270.01H716.5M599.9 272.83H716.5M599.9 275.65H716.5M599.9 278.47H716.5M599.9 281.29H716.5M599.9 284.11H716.5M599.9 286.93H716.5M599.9 289.75H716.5M599.9 292.57H716.5M599.9 295.39H716.5M599.9 298.21H716.5M599.9 301.03H716.5M599.9 303.85H716.5M599.9 306.67H716.5M599.9 309.49H716.5M599.9 312.31H716.5M599.9 315.13H716.5M599.9 317.95H716.5M599.9 320.77H716.5M599.9 323.59H716.5M599.9 326.41H716.5M599.9 329.23H716.5M599.9 332.05H716.5M599.9 334.87H716.5M599.9 337.69H716.5M599.9 340.51H716.5M599.9 343.33H716.5M599.9 346.15H716.5M599.9 348.97H716.5M599.9 351.79H716.5M599.9 354.61H716.5M599.9 357.43H716.5M599.9 360.25H716.5" stroke="#e9f0e7" stroke-width="0.25" fill="none"/><g fill="#d98ae8"><rect x="623.69" y="258.73" width="2.70" height="2.87"/><rect x="647.54" y="261.55" width="2.70" height="2.87"/><rect x="660.79" y="258.73" width="2.70" height="2.87"/><rect x="642.24" y="281.29" width="2.70" height="2.87"/><rect x="644.89" y="281.29" width="2.70" height="2.87"/><rect x="628.99" y="281.29" width="2.70" height="2.87"/><rect x="692.59" y="281.29" width="2.70" height="2.87"/><rect x="695.24" y="281.29" width="2.70" height="2.87"/><rect x="655.49" y="289.75" width="2.70" height="2.87"/><rect x="658.14" y="289.75" width="2.70" height="2.87"/><rect x="660.79" y="289.75" width="2.70" height="2.87"/><rect x="663.44" y="289.75" width="2.70" height="2.87"/><rect x="668.74" y="289.75" width="2.70" height="2.87"/><rect x="631.64" y="289.75" width="2.70" height="2.87"/><rect x="660.79" y="295.39" width="2.70" height="2.87"/><rect x="644.89" y="298.21" width="2.70" height="2.87"/><rect x="652.84" y="298.21" width="2.70" height="2.87"/><rect x="655.49" y="298.21" width="2.70" height="2.87"/><rect x="663.44" y="298.21" width="2.70" height="2.87"/><rect x="666.09" y="298.21" width="2.70" height="2.87"/><rect x="671.39" y="298.21" width="2.70" height="2.87"/><rect x="674.04" y="298.21" width="2.70" height="2.87"/><rect x="681.99" y="298.21" width="2.70" height="2.87"/><rect x="618.39" y="306.67" width="2.70" height="2.87"/><rect x="626.34" y="306.67" width="2.70" height="2.87"/><rect x="621.04" y="312.31" width="2.70" height="2.87"/><rect x="628.99" y="315.13" width="2.70" height="2.87"/><rect x="636.94" y="315.13" width="2.70" height="2.87"/><rect x="623.69" y="317.95" width="2.70" height="2.87"/><rect x="639.59" y="320.77" width="2.70" height="2.87"/><rect x="695.24" y="312.31" width="2.70" height="2.87"/><rect x="700.54" y="312.31" width="2.70" height="2.87"/><rect x="703.19" y="315.13" width="2.70" height="2.87"/><rect x="705.84" y="312.31" width="2.70" height="2.87"/><rect x="708.49" y="315.13" width="2.70" height="2.87"/><rect x="610.44" y="326.41" width="2.70" height="2.87"/><rect x="626.34" y="329.23" width="2.70" height="2.87"/><rect x="628.99" y="329.23" width="2.70" height="2.87"/><rect x="631.64" y="329.23" width="2.70" height="2.87"/><rect x="634.29" y="329.23" width="2.70" height="2.87"/><rect x="636.94" y="329.23" width="2.70" height="2.87"/><rect x="639.59" y="329.23" width="2.70" height="2.87"/><rect x="647.54" y="326.41" width="2.70" height="2.87"/><rect x="650.19" y="329.23" width="2.70" height="2.87"/><rect x="655.49" y="326.41" width="2.70" height="2.87"/><rect x="684.64" y="329.23" width="2.70" height="2.87"/><rect x="687.29" y="329.23" width="2.70" height="2.87"/><rect x="689.94" y="329.23" width="2.70" height="2.87"/><rect x="697.89" y="326.41" width="2.70" height="2.87"/><rect x="674.04" y="332.05" width="2.70" height="2.87"/><rect x="676.69" y="332.05" width="2.70" height="2.87"/><rect x="671.39" y="334.87" width="2.70" height="2.87"/><rect x="674.04" y="334.87" width="2.70" height="2.87"/><rect x="676.69" y="334.87" width="2.70" height="2.87"/><rect x="634.29" y="334.87" width="2.70" height="2.87"/><rect x="647.54" y="337.69" width="2.70" height="2.87"/><rect x="628.99" y="340.51" width="2.70" height="2.87"/><rect x="628.99" y="343.33" width="2.70" height="2.87"/><rect x="631.64" y="340.51" width="2.70" height="2.87"/><rect x="631.64" y="343.33" width="2.70" height="2.87"/><rect x="634.29" y="343.33" width="2.70" height="2.87"/><rect x="636.94" y="343.33" width="2.70" height="2.87"/><rect x="639.59" y="343.33" width="2.70" height="2.87"/><rect x="642.24" y="343.33" width="2.70" height="2.87"/><rect x="647.54" y="343.33" width="2.70" height="2.87"/><rect x="650.19" y="343.33" width="2.70" height="2.87"/><rect x="650.19" y="346.15" width="2.70" height="2.87"/><rect x="652.84" y="346.15" width="2.70" height="2.87"/><rect x="655.49" y="346.15" width="2.70" height="2.87"/><rect x="658.14" y="346.15" width="2.70" height="2.87"/><rect x="660.79" y="343.33" width="2.70" height="2.87"/><rect x="663.44" y="343.33" width="2.70" height="2.87"/><rect x="666.09" y="343.33" width="2.70" height="2.87"/><rect x="668.74" y="343.33" width="2.70" height="2.87"/><rect x="671.39" y="343.33" width="2.70" height="2.87"/><rect x="674.04" y="343.33" width="2.70" height="2.87"/><rect x="671.39" y="340.51" width="2.70" height="2.87"/><rect x="674.04" y="340.51" width="2.70" height="2.87"/><rect x="676.69" y="340.51" width="2.70" height="2.87"/><rect x="671.39" y="348.97" width="2.70" height="2.87"/><rect x="639.59" y="348.97" width="2.70" height="2.87"/><rect x="642.24" y="348.97" width="2.70" height="2.87"/><rect x="642.24" y="351.79" width="2.70" height="2.87"/><rect x="644.89" y="351.79" width="2.70" height="2.87"/><rect x="647.54" y="351.79" width="2.70" height="2.87"/><rect x="650.19" y="351.79" width="2.70" height="2.87"/><rect x="652.84" y="351.79" width="2.70" height="2.87"/><rect x="655.49" y="351.79" width="2.70" height="2.87"/><rect x="658.14" y="351.79" width="2.70" height="2.87"/><rect x="660.79" y="351.79" width="2.70" height="2.87"/></g><g fill="#e8008f"><rect x="642.24" y="267.19" width="2.70" height="2.87"/><rect x="613.09" y="270.01" width="2.70" height="2.87"/><rect x="613.09" y="272.83" width="2.70" height="2.87"/><rect x="628.99" y="272.83" width="2.70" height="2.87"/><rect x="644.89" y="278.47" width="2.70" height="2.87"/><rect x="674.04" y="289.75" width="2.70" height="2.87"/><rect x="631.64" y="292.57" width="2.70" height="2.87"/><rect x="607.79" y="295.39" width="2.70" height="2.87"/><rect x="644.89" y="301.03" width="2.70" height="2.87"/><rect x="615.74" y="315.13" width="2.70" height="2.87"/><rect x="626.34" y="317.95" width="2.70" height="2.87"/><rect x="626.34" y="320.77" width="2.70" height="2.87"/><rect x="618.39" y="323.59" width="2.70" height="2.87"/></g><g fill="#3535e0"><rect x="631.64" y="334.87" width="2.70" height="2.87"/></g><g fill="#7a3030"><rect x="666.09" y="337.69" width="2.70" height="2.87"/></g></g><circle cx="658.20" cy="299.30" r="58.30" fill="none" stroke="#7a7a7a" stroke-width="1"/><rect x="654.30" y="356.70" width="7.8" height="2.6" rx="0.6" fill="#8c8c8c"/><path d="M656.30 358.90 L658.20 356.40 L660.10 358.90 Z" fill="#fff"/><text x="780.90" y="45.30" font-size="12.5" fill="#2c2c2c" textLength="184.60" lengthAdjust="spacingAndGlyphs" stroke="#2c2c2c" stroke-width="0.25">Root Cause_Sum of Probability</text><rect x="779.5" y="57.7" width="755.0" height="19.2" fill="#f4f8fc" stroke="#e9eef5" stroke-width="1"/><path d="M779.5 57.2 V353.3 H1534.5 V57.2" fill="none" stroke="#ececec" stroke-width="1"/><g stroke="#eceef2" stroke-width="1"><line x1="779.0" y1="76.9" x2="1535.0" y2="76.9"/><line x1="779.0" y1="100.7" x2="1535.0" y2="100.7"/><line x1="779.0" y1="124.7" x2="1535.0" y2="124.7"/><line x1="779.0" y1="148.7" x2="1535.0" y2="148.7"/><line x1="779.0" y1="172.7" x2="1535.0" y2="172.7"/><line x1="779.0" y1="196.7" x2="1535.0" y2="196.7"/><line x1="779.0" y1="220.6" x2="1535.0" y2="220.6"/></g><g stroke="#e4eaf3" stroke-width="1"><line x1="980.8" y1="57.2" x2="980.8" y2="220.6"/><line x1="1103.8" y1="57.2" x2="1103.8" y2="220.6"/><line x1="1188.3" y1="57.2" x2="1188.3" y2="220.6"/><line x1="1264.6" y1="57.2" x2="1264.6" y2="220.6"/></g><text x="783.00" y="71.50" font-size="11.6" fill="#2a78e2" textLength="23.80" lengthAdjust="spacingAndGlyphs" stroke="#2a78e2" stroke-width="0.3">Type</text><text x="984.90" y="71.50" font-size="11.6" fill="#2a78e2" textLength="52.40" lengthAdjust="spacingAndGlyphs" stroke="#2a78e2" stroke-width="0.3">Max_Error</text><text x="1108.00" y="71.50" font-size="11.6" fill="#2a78e2" textLength="25.00" lengthAdjust="spacingAndGlyphs" stroke="#2a78e2" stroke-width="0.3">Total</text><text x="1191.50" y="71.50" font-size="11.6" fill="#2a78e2" textLength="21.20" lengthAdjust="spacingAndGlyphs" stroke="#2a78e2" stroke-width="0.3">CRF</text><text x="1268.60" y="71.50" font-size="11.6" fill="#2a78e2" textLength="33.40" lengthAdjust="spacingAndGlyphs" stroke="#2a78e2" stroke-width="0.3">Pareto</text><text x="783.00" y="92.10" font-size="11.4" fill="#474747" textLength="55.07" lengthAdjust="spacingAndGlyphs" >Count_via3</text><text x="1108.00" y="92.10" font-size="11.4" fill="#474747" textLength="23.07" lengthAdjust="spacingAndGlyphs" >0.41</text><text x="1192.30" y="92.10" font-size="11.4" fill="#474747" textLength="23.07" lengthAdjust="spacingAndGlyphs" >0.41</text><text x="1268.40" y="92.10" font-size="11.4" fill="#474747" textLength="29.67" lengthAdjust="spacingAndGlyphs" >0.410</text><rect x="1302.5" y="79.30" width="224.50" height="18.80" fill="#eceef5"/><rect x="1302.5" y="79.30" width="224.50" height="18.80" fill="#fbbd00"/><text x="783.00" y="116.10" font-size="11.4" fill="#474747" textLength="127.70" lengthAdjust="spacingAndGlyphs" >Count_via3_double_DEF1</text><text x="1108.00" y="116.10" font-size="11.4" fill="#474747" textLength="29.67" lengthAdjust="spacingAndGlyphs" >0.393</text><text x="1192.30" y="116.10" font-size="11.4" fill="#474747" textLength="29.67" lengthAdjust="spacingAndGlyphs" >0.803</text><text x="1268.40" y="116.10" font-size="11.4" fill="#474747" textLength="29.67" lengthAdjust="spacingAndGlyphs" >0.393</text><rect x="1302.5" y="103.10" width="224.50" height="19.00" fill="#eceef5"/><rect x="1302.5" y="103.10" width="215.19" height="19.00" fill="#fbbd00"/><text x="783.00" y="140.10" font-size="11.4" fill="#474747" textLength="73.83" lengthAdjust="spacingAndGlyphs" >OPEN_route_4</text><text x="1108.00" y="140.10" font-size="11.4" fill="#474747" textLength="29.67" lengthAdjust="spacingAndGlyphs" >0.109</text><text x="1192.30" y="140.10" font-size="11.4" fill="#474747" textLength="29.67" lengthAdjust="spacingAndGlyphs" >0.912</text><text x="1268.40" y="140.10" font-size="11.4" fill="#474747" textLength="29.67" lengthAdjust="spacingAndGlyphs" >0.109</text><rect x="1302.5" y="127.10" width="224.50" height="19.00" fill="#eceef5"/><rect x="1302.5" y="127.10" width="59.68" height="19.00" fill="#fbbd00"/><text x="783.00" y="164.10" font-size="11.4" fill="#474747" textLength="55.07" lengthAdjust="spacingAndGlyphs" >Count_via4</text><text x="1108.00" y="164.10" font-size="11.4" fill="#474747" textLength="29.67" lengthAdjust="spacingAndGlyphs" >0.039</text><text x="1192.30" y="164.10" font-size="11.4" fill="#474747" textLength="29.67" lengthAdjust="spacingAndGlyphs" >0.951</text><text x="1268.40" y="164.10" font-size="11.4" fill="#474747" textLength="29.67" lengthAdjust="spacingAndGlyphs" >0.039</text><rect x="1302.5" y="151.10" width="224.50" height="19.00" fill="#eceef5"/><rect x="1302.5" y="151.10" width="21.35" height="19.00" fill="#fbbd00"/><text x="783.00" y="188.10" font-size="11.4" fill="#474747" textLength="73.83" lengthAdjust="spacingAndGlyphs" >OPEN_route_2</text><text x="1108.00" y="188.10" font-size="11.4" fill="#474747" textLength="23.07" lengthAdjust="spacingAndGlyphs" >0.03</text><text x="1192.30" y="188.10" font-size="11.4" fill="#474747" textLength="29.67" lengthAdjust="spacingAndGlyphs" >0.981</text><text x="1268.40" y="188.10" font-size="11.4" fill="#474747" textLength="29.67" lengthAdjust="spacingAndGlyphs" >0.030</text><rect x="1302.5" y="175.10" width="224.50" height="19.00" fill="#eceef5"/><rect x="1302.5" y="175.10" width="16.43" height="19.00" fill="#fbbd00"/><text x="783.00" y="212.10" font-size="11.4" fill="#474747" textLength="92.61" lengthAdjust="spacingAndGlyphs" >Count_CELL_ao21</text><text x="1108.00" y="212.10" font-size="11.4" fill="#474747" textLength="29.67" lengthAdjust="spacingAndGlyphs" >0.019</text><text x="1192.30" y="212.10" font-size="11.4" fill="#474747" textLength="6.59" lengthAdjust="spacingAndGlyphs" >1</text><text x="1268.40" y="212.10" font-size="11.4" fill="#474747" textLength="29.67" lengthAdjust="spacingAndGlyphs" >0.019</text><rect x="1302.5" y="199.10" width="224.50" height="18.90" fill="#eceef5"/><rect x="1302.5" y="199.10" width="10.40" height="18.90" fill="#fbbd00"/><line x1="816.6" y1="444.6" x2="860" y2="444.6" stroke="#1b5598" stroke-width="3.2"/><path d="M857.4 432.8 L878.2 444.6 L857.4 456.4 Z" fill="#1b5598"/><rect x="25.1" y="14.3" width="703.4" height="348.3" rx="13.5" fill="none" stroke="#2589ea" stroke-width="1.5"/><rect x="764.0" y="15.5" width="782.4" height="345.0" rx="14" fill="none" stroke="#3b6aa6" stroke-width="1.5"/><line x1="25.0" y1="30" x2="25.0" y2="347" stroke="#78b6f4" stroke-width="1.9"/><line x1="764.1" y1="29.5" x2="764.1" y2="346.5" stroke="#7f9cc6" stroke-width="1.7"/></svg>
<div class="abs bt" style="left:592.6px;top:419.4px">Wafer Pattern</div>
<div class="abs bt" style="left:887.7px;top:419.4px">RCA</div>
</body></html>
